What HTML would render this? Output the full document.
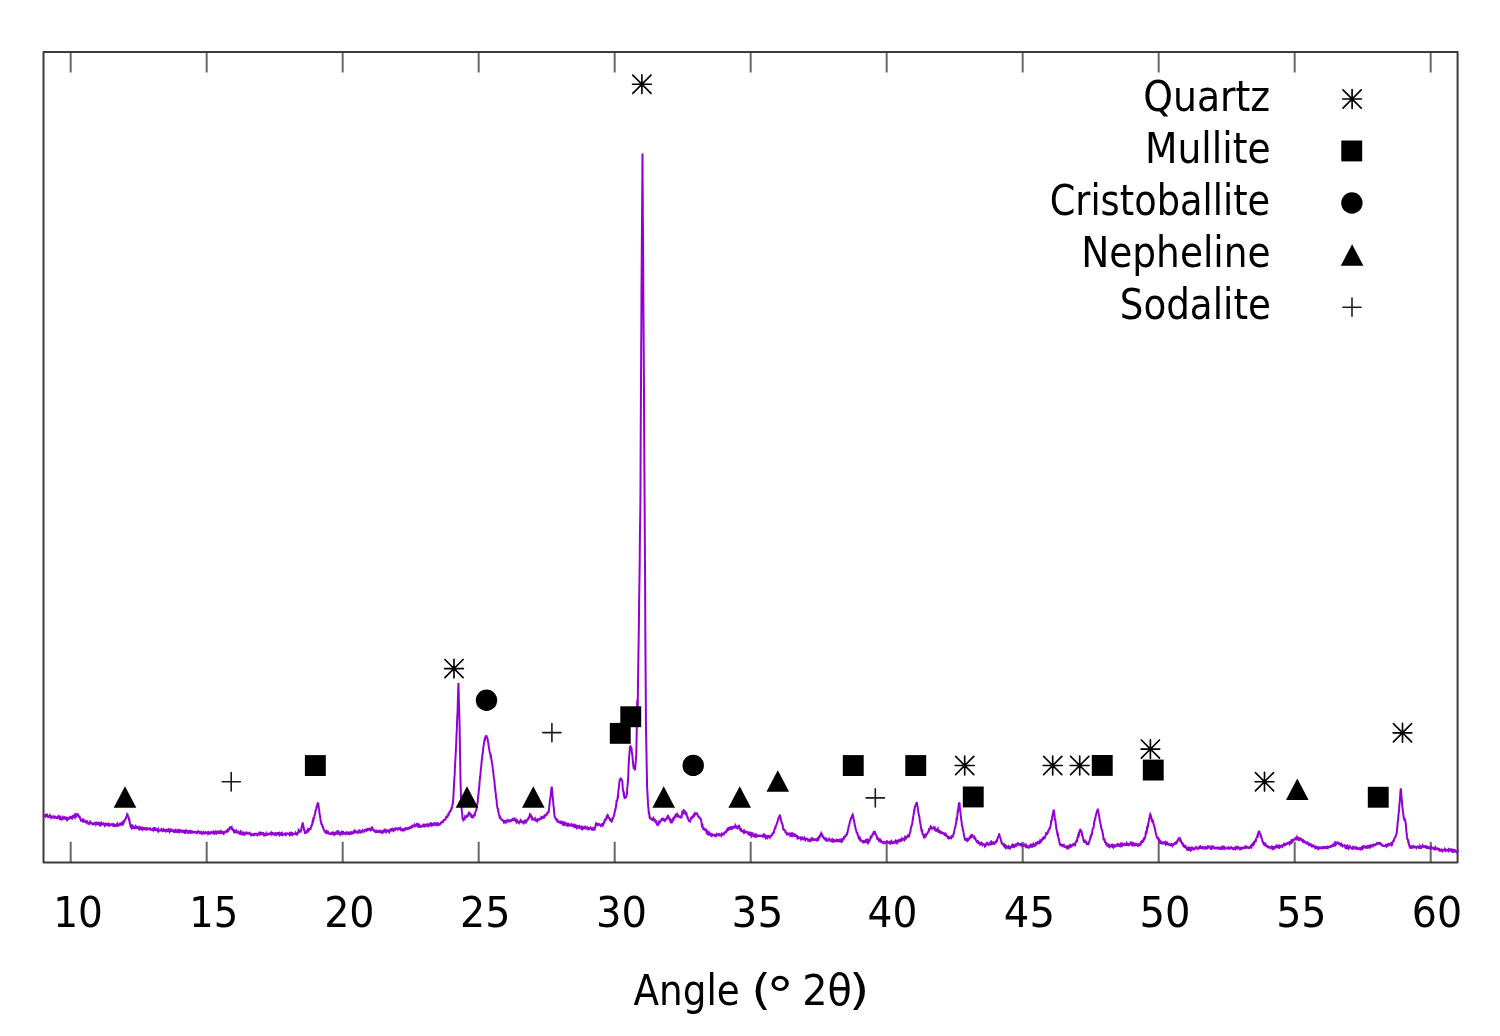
<!DOCTYPE html>
<html lang="en"><head><meta charset="utf-8"><title>XRD pattern</title>
<style>
html,body{margin:0;padding:0;background:#fff;}
body{width:1500px;height:1036px;overflow:hidden;}
svg{display:block;}
text{font-family:"DejaVu Sans Condensed","DejaVu Sans","Liberation Sans",sans-serif;font-size:42px;fill:#000;}
</style></head><body>
<svg width="1500" height="1036" viewBox="0 0 1500 1036">
<rect width="1500" height="1036" fill="#fff"/>
<g stroke="#686868" stroke-width="2" stroke-linecap="butt" fill="none">
<path d="M70.7 862.6V841.8M70.7 52.0V72.4"/>
<path d="M206.7 862.6V841.8M206.7 52.0V72.4"/>
<path d="M342.7 862.6V841.8M342.7 52.0V72.4"/>
<path d="M478.7 862.6V841.8M478.7 52.0V72.4"/>
<path d="M614.7 862.6V841.8M614.7 52.0V72.4"/>
<path d="M750.7 862.6V841.8M750.7 52.0V72.4"/>
<path d="M886.7 862.6V841.8M886.7 52.0V72.4"/>
<path d="M1022.7 862.6V841.8M1022.7 52.0V72.4"/>
<path d="M1158.7 862.6V841.8M1158.7 52.0V72.4"/>
<path d="M1294.7 862.6V841.8M1294.7 52.0V72.4"/>
<path d="M1430.7 862.6V841.8M1430.7 52.0V72.4"/>
</g>
<rect x="43.5" y="52.0" width="1414.1" height="810.6" fill="none" stroke="#3c3c3c" stroke-width="2.0" stroke-linejoin="round"/>
<text x="53.17" y="927.3" textLength="49.68" lengthAdjust="spacingAndGlyphs">10</text>
<text x="189.23" y="927.3" textLength="48.90" lengthAdjust="spacingAndGlyphs">15</text>
<text x="324.15" y="927.3" textLength="50.43" lengthAdjust="spacingAndGlyphs">20</text>
<text x="460.06" y="927.3" textLength="50.37" lengthAdjust="spacingAndGlyphs">25</text>
<text x="596.02" y="927.3" textLength="50.99" lengthAdjust="spacingAndGlyphs">30</text>
<text x="731.58" y="927.3" textLength="51.63" lengthAdjust="spacingAndGlyphs">35</text>
<text x="867.63" y="927.3" textLength="49.83" lengthAdjust="spacingAndGlyphs">40</text>
<text x="1003.87" y="927.3" textLength="51.10" lengthAdjust="spacingAndGlyphs">45</text>
<text x="1139.52" y="927.3" textLength="50.99" lengthAdjust="spacingAndGlyphs">50</text>
<text x="1276.16" y="927.3" textLength="50.37" lengthAdjust="spacingAndGlyphs">55</text>
<text x="1411.86" y="927.3" textLength="50.31" lengthAdjust="spacingAndGlyphs">60</text>
<text x="1143.20" y="110.7" textLength="127.02" lengthAdjust="spacingAndGlyphs">Quartz</text>
<text x="1145.02" y="162.7" textLength="125.60" lengthAdjust="spacingAndGlyphs">Mullite</text>
<text x="1049.65" y="214.7" textLength="220.53" lengthAdjust="spacingAndGlyphs">Cristoballite</text>
<text x="1081.23" y="266.7" textLength="189.39" lengthAdjust="spacingAndGlyphs">Nepheline</text>
<text x="1119.73" y="318.7" textLength="151.27" lengthAdjust="spacingAndGlyphs">Sodalite</text>
<text><tspan x="633.50" y="1005.2" textLength="106.23" lengthAdjust="spacingAndGlyphs">Angle</tspan> <tspan x="751.17" y="1005.2" textLength="19.83" lengthAdjust="spacingAndGlyphs">(</tspan><tspan x="765.99" y="1012.6" style="font-size:49px" textLength="28.19" lengthAdjust="spacingAndGlyphs">°</tspan> <tspan x="802.24" y="1005.2" textLength="49.63" lengthAdjust="spacingAndGlyphs">2θ</tspan><tspan x="848.87" y="1005.2" textLength="20.81" lengthAdjust="spacingAndGlyphs">)</tspan></text>
<polyline fill="none" stroke="#9400D3" stroke-width="2.0" stroke-linejoin="miter" stroke-miterlimit="3" points="43.5,815.4 43.8,814.6 44.0,817.4 44.3,815.8 44.6,815.5 44.9,815.6 45.1,816.1 45.4,815.3 45.7,815.6 45.9,815.8 46.2,815.3 46.5,814.5 46.7,814.5 47.0,816.0 47.3,816.2 47.5,815.6 47.8,816.2 48.1,817.9 48.4,816.8 48.6,815.7 48.9,816.7 49.2,816.7 49.4,816.3 49.7,816.5 50.0,815.6 50.2,816.1 50.5,816.0 50.8,816.2 51.1,817.2 51.3,818.0 51.6,817.7 51.9,816.7 52.1,816.8 52.4,816.8 52.7,817.0 53.0,815.8 53.2,817.5 53.5,816.7 53.8,817.0 54.0,817.4 54.3,816.7 54.6,815.8 54.8,817.2 55.1,817.5 55.4,818.2 55.6,817.4 55.9,817.8 56.2,817.9 56.5,818.2 56.7,818.2 57.0,817.5 57.3,817.0 57.5,817.3 57.8,817.0 58.1,817.1 58.4,817.7 58.6,817.5 58.9,816.4 59.2,816.9 59.4,817.6 59.7,817.8 60.0,820.2 60.2,815.7 60.5,818.0 60.8,817.2 61.0,818.1 61.3,818.4 61.6,817.9 61.9,818.1 62.1,819.0 62.4,818.5 62.7,817.9 62.9,817.4 63.2,818.2 63.5,818.2 63.8,817.9 64.0,818.4 64.3,818.0 64.6,819.2 64.8,818.3 65.1,818.0 65.4,818.1 65.6,816.6 65.9,819.6 66.2,818.7 66.5,819.2 66.7,817.8 67.0,816.9 67.3,818.8 67.5,817.8 67.8,818.8 68.1,818.2 68.3,818.3 68.6,818.9 68.9,818.6 69.2,818.7 69.4,818.5 69.7,818.0 70.0,817.9 70.2,816.0 70.5,818.0 70.8,816.0 71.0,818.0 71.3,818.2 71.6,817.4 71.8,819.2 72.1,817.1 72.4,816.7 72.7,817.6 72.9,817.1 73.2,817.8 73.5,816.5 73.7,817.2 74.0,816.0 74.3,816.2 74.5,815.6 74.8,816.4 75.1,817.2 75.4,816.3 75.6,815.0 75.9,815.3 76.2,815.8 76.4,815.1 76.7,815.4 77.0,816.2 77.2,814.4 77.5,814.7 77.8,814.6 78.1,814.6 78.3,814.8 78.6,816.2 78.9,816.5 79.1,817.1 79.4,817.0 79.7,816.8 80.0,818.2 80.2,818.7 80.5,819.5 80.8,819.8 81.0,821.5 81.3,820.4 81.6,820.1 81.8,821.5 82.1,820.8 82.4,819.6 82.7,822.5 82.9,820.1 83.2,819.7 83.5,820.3 83.7,820.9 84.0,821.2 84.3,820.9 84.5,821.6 84.8,821.5 85.1,820.5 85.3,822.1 85.6,820.3 85.9,821.8 86.2,822.0 86.4,822.5 86.7,822.0 87.0,822.3 87.2,822.4 87.5,821.9 87.8,822.5 88.0,822.8 88.3,823.7 88.6,823.6 88.9,823.3 89.1,822.6 89.4,823.5 89.7,823.0 89.9,822.8 90.2,821.9 90.5,822.4 90.8,824.2 91.0,823.0 91.3,822.8 91.6,822.9 91.8,823.3 92.1,824.6 92.4,822.9 92.6,823.7 92.9,824.1 93.2,823.2 93.5,824.1 93.7,824.1 94.0,823.9 94.3,823.1 94.5,822.1 94.8,823.2 95.1,822.4 95.3,823.7 95.6,823.4 95.9,824.4 96.2,823.8 96.4,821.7 96.7,822.6 97.0,824.2 97.2,823.1 97.5,823.9 97.8,825.1 98.0,823.1 98.3,823.1 98.6,824.6 98.8,823.7 99.1,824.1 99.4,824.6 99.7,823.8 99.9,823.4 100.2,823.9 100.5,823.6 100.7,824.5 101.0,824.0 101.3,823.5 101.5,824.5 101.8,824.3 102.1,824.3 102.4,824.2 102.6,824.1 102.9,823.8 103.2,824.5 103.4,824.4 103.7,823.9 104.0,824.6 104.2,822.9 104.5,824.4 104.8,825.2 105.1,824.5 105.3,826.4 105.6,824.0 105.9,823.8 106.1,824.2 106.4,824.2 106.7,824.1 107.0,824.5 107.2,824.3 107.5,824.3 107.8,825.1 108.0,825.1 108.3,824.2 108.6,824.8 108.8,824.0 109.1,824.2 109.4,824.7 109.7,824.5 109.9,824.9 110.2,824.4 110.5,824.7 110.7,825.0 111.0,824.9 111.3,824.0 111.5,825.2 111.8,824.4 112.1,823.5 112.3,824.4 112.6,824.7 112.9,825.2 113.2,824.5 113.4,825.0 113.7,826.8 114.0,825.4 114.2,824.5 114.5,825.7 114.8,825.0 115.0,825.3 115.3,824.4 115.6,826.9 115.9,825.1 116.1,824.8 116.4,824.5 116.7,825.2 116.9,824.3 117.2,823.8 117.5,824.9 117.8,824.8 118.0,825.5 118.3,825.2 118.6,825.6 118.8,825.6 119.1,824.9 119.4,824.9 119.6,824.1 119.9,823.3 120.2,824.3 120.5,822.5 120.7,824.6 121.0,824.8 121.3,824.2 121.5,823.8 121.8,823.1 122.1,825.3 122.3,823.0 122.6,823.3 122.9,823.7 123.2,822.5 123.4,822.9 123.7,821.9 124.0,821.3 124.2,821.6 124.5,820.8 124.8,820.0 125.0,819.7 125.3,819.7 125.6,818.8 125.8,819.2 126.1,817.3 126.4,817.0 126.7,816.6 126.9,815.3 127.2,814.2 127.5,814.6 127.7,814.7 128.0,816.0 128.3,816.9 128.6,817.6 128.8,819.0 129.1,818.8 129.4,820.4 129.6,822.0 129.9,823.6 130.2,824.2 130.4,825.9 130.7,826.6 131.0,827.2 131.2,826.3 131.5,826.9 131.8,827.4 132.1,826.4 132.3,826.8 132.6,826.3 132.9,827.1 133.1,826.7 133.4,827.4 133.7,828.7 133.9,827.3 134.2,827.4 134.5,827.2 134.8,827.7 135.0,827.2 135.3,826.9 135.6,826.3 135.8,826.7 136.1,827.7 136.4,827.7 136.7,829.1 136.9,827.8 137.2,827.0 137.5,826.0 137.7,828.5 138.0,827.2 138.3,828.3 138.5,827.1 138.8,827.2 139.1,829.4 139.3,829.5 139.6,827.7 139.9,827.4 140.2,828.9 140.4,828.9 140.7,827.7 141.0,828.9 141.2,828.4 141.5,828.7 141.8,828.2 142.1,828.9 142.3,828.6 142.6,829.5 142.9,829.1 143.1,829.0 143.4,828.8 143.7,827.2 143.9,827.6 144.2,828.5 144.5,830.0 144.8,827.6 145.0,829.0 145.3,829.1 145.6,829.9 145.8,828.6 146.1,830.2 146.4,827.1 146.6,828.8 146.9,828.7 147.2,828.7 147.4,829.2 147.7,828.9 148.0,829.1 148.3,829.0 148.5,829.1 148.8,828.8 149.1,828.7 149.3,827.6 149.6,829.3 149.9,827.4 150.2,829.3 150.4,829.8 150.7,829.6 151.0,829.5 151.2,829.6 151.5,829.7 151.8,829.7 152.0,829.4 152.3,829.6 152.6,829.2 152.8,829.4 153.1,830.0 153.4,829.0 153.7,829.5 153.9,829.1 154.2,829.6 154.5,829.2 154.7,827.1 155.0,829.5 155.3,829.9 155.6,830.5 155.8,829.4 156.1,829.2 156.4,830.1 156.6,828.9 156.9,829.7 157.2,830.2 157.4,829.7 157.7,829.7 158.0,829.1 158.2,830.0 158.5,831.2 158.8,830.7 159.1,831.4 159.3,829.7 159.6,830.4 159.9,830.1 160.1,830.5 160.4,830.6 160.7,830.0 160.9,829.6 161.2,831.0 161.5,829.7 161.8,830.2 162.0,829.9 162.3,830.6 162.6,830.9 162.8,830.4 163.1,830.6 163.4,830.1 163.7,829.5 163.9,829.9 164.2,829.9 164.5,830.3 164.7,831.7 165.0,829.6 165.3,830.4 165.5,830.2 165.8,830.9 166.1,830.0 166.3,830.7 166.6,830.2 166.9,830.5 167.2,830.8 167.4,830.3 167.7,831.4 168.0,830.2 168.2,830.4 168.5,829.6 168.8,830.1 169.1,831.2 169.3,831.6 169.6,830.5 169.9,830.1 170.1,832.0 170.4,830.3 170.7,830.7 170.9,830.8 171.2,830.8 171.5,830.8 171.8,831.6 172.0,830.1 172.3,830.4 172.6,829.5 172.8,830.8 173.1,830.6 173.4,831.1 173.6,830.4 173.9,830.5 174.2,831.0 174.4,832.8 174.7,831.8 175.0,830.9 175.3,830.9 175.5,828.9 175.8,831.7 176.1,831.7 176.3,831.0 176.6,831.2 176.9,830.6 177.2,830.0 177.4,831.0 177.7,830.6 178.0,831.3 178.2,830.8 178.5,831.3 178.8,831.6 179.0,831.8 179.3,830.3 179.6,830.6 179.8,829.8 180.1,831.1 180.4,830.6 180.7,831.1 180.9,831.1 181.2,831.5 181.5,831.3 181.7,829.8 182.0,831.4 182.3,831.9 182.6,831.6 182.8,832.7 183.1,830.4 183.4,831.5 183.6,831.5 183.9,830.8 184.2,830.8 184.4,831.7 184.7,831.6 185.0,833.1 185.2,833.8 185.5,831.6 185.8,830.9 186.1,830.4 186.3,830.7 186.6,831.3 186.9,832.5 187.1,832.0 187.4,831.6 187.7,832.2 187.9,831.7 188.2,831.9 188.5,832.2 188.8,831.6 189.0,832.9 189.3,830.2 189.6,831.2 189.8,831.6 190.1,833.5 190.4,831.8 190.7,831.3 190.9,831.7 191.2,832.4 191.5,832.6 191.7,830.6 192.0,831.8 192.3,832.2 192.5,831.9 192.8,831.7 193.1,831.8 193.3,831.9 193.6,832.0 193.9,832.4 194.2,832.2 194.4,831.8 194.7,831.8 195.0,832.6 195.2,832.6 195.5,832.4 195.8,832.3 196.1,832.4 196.3,832.1 196.6,832.4 196.9,834.2 197.1,831.9 197.4,831.9 197.7,831.8 197.9,831.6 198.2,832.8 198.5,831.6 198.8,832.0 199.0,832.2 199.3,831.3 199.6,832.8 199.8,831.8 200.1,833.2 200.4,833.1 200.6,832.4 200.9,832.2 201.2,833.5 201.4,832.6 201.7,833.2 202.0,833.6 202.3,832.8 202.5,832.8 202.8,832.9 203.1,832.5 203.3,832.3 203.6,834.1 203.9,831.6 204.2,833.3 204.4,833.5 204.7,833.2 205.0,834.1 205.2,832.8 205.5,832.5 205.8,832.6 206.0,834.0 206.3,832.4 206.6,832.5 206.8,831.6 207.1,832.5 207.4,832.7 207.7,832.2 207.9,832.1 208.2,833.8 208.5,833.4 208.7,832.7 209.0,833.2 209.3,832.8 209.6,832.8 209.8,832.8 210.1,833.2 210.4,832.3 210.6,832.2 210.9,832.8 211.2,832.6 211.4,832.8 211.7,832.4 212.0,832.8 212.2,832.7 212.5,832.7 212.8,832.9 213.1,832.8 213.3,832.2 213.6,832.8 213.9,832.4 214.1,832.8 214.4,831.9 214.7,832.8 214.9,832.4 215.2,832.6 215.5,832.1 215.8,834.0 216.0,833.0 216.3,833.3 216.6,832.2 216.8,832.0 217.1,832.1 217.4,832.4 217.7,832.0 217.9,830.6 218.2,833.6 218.5,830.6 218.7,833.1 219.0,831.9 219.3,833.8 219.5,832.7 219.8,832.5 220.1,832.0 220.3,833.4 220.6,831.7 220.9,832.4 221.2,832.0 221.4,832.8 221.7,832.8 222.0,832.1 222.2,831.2 222.5,832.5 222.8,832.3 223.1,832.9 223.3,833.3 223.6,832.6 223.9,833.1 224.1,832.4 224.4,832.5 224.7,832.1 224.9,832.2 225.2,832.2 225.5,831.6 225.8,831.4 226.0,831.5 226.3,831.7 226.6,830.2 226.8,831.5 227.1,830.7 227.4,831.0 227.6,829.7 227.9,828.7 228.2,829.9 228.4,829.0 228.7,829.9 229.0,829.2 229.3,828.5 229.5,828.1 229.8,828.6 230.1,828.1 230.3,827.4 230.6,827.2 230.9,828.1 231.2,827.2 231.4,827.8 231.7,827.4 232.0,829.1 232.2,829.2 232.5,829.6 232.8,829.4 233.0,830.0 233.3,830.3 233.6,830.9 233.8,830.9 234.1,833.1 234.4,830.6 234.7,830.9 234.9,830.0 235.2,831.1 235.5,832.0 235.7,832.0 236.0,833.2 236.3,832.2 236.6,832.3 236.8,831.3 237.1,831.8 237.4,832.0 237.6,833.2 237.9,832.5 238.2,832.2 238.4,833.4 238.7,832.3 239.0,833.4 239.2,833.6 239.5,833.7 239.8,832.7 240.1,832.2 240.3,832.9 240.6,832.3 240.9,833.5 241.1,832.9 241.4,833.1 241.7,834.9 241.9,834.4 242.2,833.1 242.5,833.7 242.8,832.6 243.0,833.1 243.3,833.3 243.6,833.5 243.8,832.8 244.1,833.1 244.4,834.9 244.7,835.5 244.9,833.7 245.2,833.9 245.5,833.5 245.7,833.4 246.0,832.8 246.3,833.5 246.5,832.4 246.8,834.1 247.1,832.0 247.3,833.5 247.6,833.7 247.9,833.7 248.2,832.7 248.4,833.8 248.7,833.0 249.0,834.3 249.2,833.0 249.5,832.8 249.8,833.6 250.1,834.0 250.3,833.9 250.6,834.1 250.9,834.8 251.1,834.2 251.4,834.5 251.7,834.7 251.9,833.9 252.2,835.9 252.5,833.7 252.8,834.5 253.0,834.6 253.3,833.2 253.6,835.0 253.8,833.7 254.1,834.8 254.4,834.5 254.6,834.4 254.9,832.9 255.2,834.4 255.4,834.2 255.7,834.2 256.0,834.4 256.3,834.1 256.5,833.8 256.8,833.9 257.1,834.2 257.3,834.8 257.6,834.2 257.9,834.1 258.1,834.3 258.4,834.4 258.7,834.6 259.0,834.7 259.2,831.9 259.5,833.7 259.8,834.2 260.0,833.7 260.3,834.4 260.6,834.3 260.9,834.0 261.1,833.4 261.4,834.0 261.7,834.4 261.9,834.9 262.2,833.8 262.5,833.9 262.7,832.2 263.0,833.7 263.3,832.6 263.6,833.7 263.8,834.7 264.1,834.3 264.4,834.8 264.6,834.3 264.9,835.3 265.2,833.5 265.4,834.0 265.7,836.0 266.0,834.2 266.2,833.6 266.5,834.4 266.8,834.1 267.1,834.7 267.3,833.5 267.6,835.5 267.9,832.8 268.1,834.3 268.4,835.2 268.7,834.0 268.9,833.9 269.2,833.8 269.5,834.8 269.8,833.9 270.0,833.6 270.3,834.3 270.6,834.3 270.8,832.5 271.1,834.2 271.4,833.1 271.6,833.5 271.9,834.3 272.2,833.6 272.5,833.3 272.7,833.7 273.0,833.6 273.3,834.1 273.5,834.7 273.8,833.7 274.1,833.9 274.4,833.7 274.6,834.2 274.9,833.7 275.2,834.5 275.4,834.3 275.7,833.9 276.0,834.4 276.2,833.7 276.5,833.9 276.8,834.9 277.1,834.1 277.3,833.4 277.6,832.3 277.9,833.4 278.1,833.9 278.4,834.6 278.7,834.6 278.9,834.4 279.2,833.7 279.5,834.5 279.8,833.6 280.0,833.9 280.3,833.6 280.6,834.1 280.8,834.5 281.1,834.3 281.4,833.7 281.6,834.4 281.9,834.1 282.2,834.5 282.4,833.9 282.7,834.5 283.0,833.9 283.3,833.3 283.5,835.1 283.8,834.5 284.1,834.3 284.3,834.3 284.6,834.3 284.9,834.3 285.1,834.5 285.4,833.4 285.7,833.5 286.0,834.1 286.2,833.3 286.5,834.3 286.8,832.6 287.0,834.2 287.3,833.5 287.6,833.7 287.9,833.9 288.1,833.8 288.4,833.9 288.7,834.1 288.9,833.8 289.2,833.9 289.5,834.5 289.7,833.6 290.0,834.1 290.3,834.5 290.6,835.7 290.8,834.6 291.1,833.2 291.4,831.9 291.6,834.4 291.9,833.7 292.2,834.5 292.4,833.0 292.7,834.2 293.0,833.6 293.2,833.8 293.5,833.9 293.8,833.7 294.1,832.9 294.3,833.6 294.6,833.8 294.9,834.0 295.1,834.0 295.4,833.1 295.7,833.8 295.9,835.0 296.2,834.2 296.5,834.0 296.8,834.3 297.0,833.0 297.3,832.8 297.6,833.3 297.8,832.9 298.1,833.1 298.4,833.8 298.6,830.3 298.9,830.7 299.2,831.9 299.5,831.2 299.7,831.3 300.0,831.9 300.3,829.7 300.5,832.5 300.8,830.8 301.1,830.7 301.4,828.3 301.6,827.4 301.9,826.4 302.2,825.3 302.4,824.0 302.7,823.3 303.0,823.5 303.2,825.0 303.5,826.4 303.8,828.2 304.1,830.9 304.3,829.4 304.6,830.8 304.9,832.7 305.1,833.7 305.4,832.6 305.7,833.7 305.9,832.5 306.2,832.6 306.5,832.4 306.8,832.9 307.0,830.8 307.3,830.3 307.6,830.6 307.8,830.7 308.1,829.2 308.4,829.5 308.6,830.3 308.9,829.7 309.2,829.8 309.4,829.2 309.7,828.3 310.0,829.9 310.3,828.4 310.5,830.0 310.8,826.9 311.1,827.9 311.3,826.1 311.6,825.4 311.9,825.3 312.1,824.0 312.4,823.3 312.7,820.1 313.0,820.6 313.2,819.3 313.5,819.7 313.8,818.2 314.0,817.9 314.3,816.5 314.6,814.7 314.9,814.3 315.1,814.6 315.4,811.1 315.7,811.0 315.9,810.0 316.2,808.9 316.5,807.2 316.7,807.4 317.0,806.3 317.3,804.6 317.6,803.5 317.8,803.7 318.1,802.8 318.4,803.9 318.6,806.1 318.9,808.8 319.2,809.7 319.4,812.6 319.7,814.5 320.0,816.3 320.2,817.3 320.5,819.6 320.8,821.5 321.1,821.8 321.3,824.0 321.6,824.5 321.9,824.6 322.1,824.6 322.4,827.0 322.7,826.0 322.9,827.4 323.2,827.4 323.5,828.9 323.8,830.1 324.0,829.6 324.3,831.7 324.6,830.7 324.8,831.5 325.1,831.9 325.4,831.6 325.6,832.3 325.9,831.3 326.2,831.1 326.5,834.1 326.7,830.5 327.0,833.7 327.3,832.8 327.5,831.9 327.8,831.8 328.1,832.6 328.4,832.4 328.6,832.8 328.9,833.0 329.2,834.1 329.4,832.5 329.7,834.9 330.0,833.9 330.2,834.0 330.5,833.7 330.8,833.7 331.1,833.7 331.3,833.2 331.6,833.3 331.9,832.5 332.1,832.5 332.4,835.0 332.7,833.6 332.9,833.6 333.2,834.0 333.5,833.7 333.8,834.1 334.0,833.2 334.3,833.6 334.6,832.9 334.8,833.8 335.1,833.3 335.4,833.4 335.6,833.6 335.9,832.6 336.2,832.7 336.4,833.3 336.7,833.1 337.0,833.2 337.3,830.3 337.5,833.8 337.8,834.4 338.1,832.4 338.3,832.9 338.6,833.5 338.9,833.8 339.1,832.3 339.4,832.7 339.7,833.5 340.0,833.7 340.2,833.5 340.5,834.1 340.8,832.8 341.0,834.1 341.3,832.7 341.6,832.2 341.9,832.8 342.1,833.2 342.4,832.7 342.7,833.3 342.9,832.5 343.2,832.2 343.5,832.9 343.7,832.9 344.0,833.4 344.3,833.5 344.6,834.1 344.8,833.1 345.1,833.0 345.4,833.4 345.6,833.8 345.9,833.2 346.2,832.2 346.4,831.4 346.7,832.5 347.0,832.7 347.2,833.2 347.5,833.5 347.8,834.8 348.1,833.5 348.3,831.9 348.6,833.3 348.9,831.8 349.1,833.9 349.4,832.5 349.7,832.5 349.9,833.6 350.2,833.2 350.5,833.2 350.8,832.8 351.0,834.3 351.3,833.6 351.6,833.4 351.8,832.8 352.1,833.1 352.4,833.7 352.6,832.6 352.9,832.3 353.2,833.2 353.5,832.9 353.7,832.0 354.0,832.5 354.3,832.3 354.5,831.3 354.8,830.8 355.1,831.8 355.4,831.7 355.6,832.0 355.9,831.6 356.2,831.6 356.4,832.0 356.7,832.5 357.0,832.5 357.2,831.9 357.5,831.5 357.8,831.7 358.1,832.3 358.3,831.8 358.6,832.8 358.9,831.7 359.1,832.6 359.4,829.3 359.7,831.4 359.9,831.9 360.2,831.8 360.5,832.3 360.8,832.0 361.0,833.2 361.3,831.2 361.6,831.1 361.8,831.0 362.1,831.8 362.4,831.5 362.6,830.8 362.9,831.3 363.2,832.3 363.4,831.4 363.7,831.2 364.0,829.9 364.3,830.9 364.5,830.5 364.8,831.0 365.1,830.7 365.3,830.3 365.6,830.4 365.9,831.3 366.1,830.3 366.4,830.6 366.7,829.9 367.0,829.4 367.2,829.9 367.5,830.2 367.8,830.0 368.0,828.2 368.3,830.4 368.6,829.6 368.9,829.5 369.1,829.4 369.4,829.6 369.7,829.8 369.9,828.6 370.2,828.6 370.5,829.6 370.7,830.2 371.0,829.9 371.3,829.0 371.6,828.3 371.8,828.8 372.1,828.7 372.4,828.3 372.6,829.6 372.9,829.8 373.2,829.7 373.4,829.7 373.7,830.6 374.0,830.7 374.2,830.4 374.5,830.8 374.8,831.5 375.1,831.7 375.3,831.2 375.6,831.0 375.9,830.7 376.1,831.4 376.4,832.9 376.7,831.3 376.9,831.3 377.2,831.5 377.5,831.5 377.8,831.7 378.0,831.2 378.3,832.4 378.6,831.0 378.8,831.1 379.1,831.4 379.4,831.7 379.6,831.2 379.9,831.2 380.2,830.8 380.5,831.1 380.7,832.2 381.0,832.4 381.3,830.8 381.5,831.3 381.8,831.7 382.1,831.5 382.4,832.1 382.6,831.6 382.9,831.2 383.2,831.9 383.4,830.4 383.7,831.3 384.0,830.8 384.2,831.3 384.5,830.9 384.8,830.4 385.1,831.2 385.3,831.4 385.6,830.7 385.9,831.4 386.1,831.9 386.4,831.2 386.7,831.9 386.9,830.9 387.2,830.7 387.5,831.2 387.8,831.1 388.0,830.8 388.3,829.9 388.6,831.0 388.8,830.7 389.1,831.2 389.4,831.7 389.6,830.5 389.9,830.4 390.2,830.0 390.4,829.9 390.7,829.2 391.0,829.1 391.3,830.2 391.5,831.2 391.8,830.6 392.1,830.1 392.3,829.9 392.6,829.9 392.9,829.2 393.1,829.6 393.4,830.2 393.7,829.0 394.0,828.4 394.2,830.1 394.5,829.2 394.8,831.1 395.0,829.1 395.3,827.7 395.6,828.5 395.9,829.5 396.1,828.9 396.4,828.5 396.7,828.5 396.9,828.6 397.2,828.5 397.5,829.3 397.7,829.0 398.0,829.2 398.3,828.4 398.6,828.3 398.8,828.9 399.1,829.5 399.4,828.1 399.6,829.1 399.9,829.1 400.2,829.4 400.4,828.6 400.7,829.2 401.0,829.8 401.2,830.2 401.5,830.0 401.8,829.8 402.1,830.0 402.3,829.3 402.6,829.5 402.9,830.2 403.1,829.7 403.4,830.7 403.7,829.6 403.9,829.8 404.2,828.7 404.5,830.1 404.8,829.5 405.0,829.8 405.3,829.6 405.6,828.0 405.8,828.0 406.1,828.6 406.4,828.3 406.6,827.7 406.9,828.8 407.2,829.1 407.5,829.2 407.7,828.5 408.0,827.9 408.3,827.9 408.5,828.5 408.8,828.4 409.1,827.6 409.4,827.6 409.6,828.1 409.9,827.8 410.2,828.0 410.4,828.8 410.7,827.0 411.0,826.6 411.2,825.9 411.5,827.1 411.8,826.7 412.1,826.8 412.3,824.9 412.6,825.6 412.9,826.9 413.1,826.3 413.4,825.3 413.7,826.3 413.9,826.4 414.2,825.4 414.5,824.9 414.8,826.0 415.0,825.9 415.3,825.4 415.6,825.8 415.8,825.5 416.1,824.3 416.4,825.7 416.6,824.9 416.9,825.4 417.2,824.9 417.4,825.4 417.7,825.9 418.0,825.0 418.3,825.8 418.5,825.2 418.8,823.8 419.1,824.9 419.3,825.5 419.6,826.1 419.9,825.6 420.1,825.0 420.4,826.4 420.7,827.5 421.0,826.3 421.2,826.4 421.5,826.2 421.8,826.3 422.0,826.4 422.3,826.5 422.6,826.3 422.9,825.5 423.1,825.9 423.4,825.4 423.7,826.0 423.9,825.9 424.2,825.6 424.5,825.2 424.7,825.9 425.0,825.5 425.3,825.6 425.6,824.5 425.8,825.4 426.1,825.0 426.4,825.6 426.6,826.5 426.9,825.7 427.2,825.1 427.4,824.7 427.7,824.4 428.0,825.2 428.2,826.3 428.5,826.4 428.8,824.1 429.1,824.7 429.3,825.2 429.6,824.9 429.9,824.5 430.1,822.8 430.4,824.2 430.7,824.7 430.9,823.5 431.2,822.5 431.5,824.4 431.8,825.0 432.0,824.7 432.3,824.5 432.6,824.2 432.8,823.4 433.1,824.7 433.4,824.3 433.6,823.2 433.9,824.5 434.2,824.3 434.5,822.2 434.7,825.0 435.0,823.2 435.3,824.4 435.5,824.1 435.8,824.3 436.1,823.8 436.4,824.2 436.6,822.5 436.9,824.5 437.2,823.0 437.4,824.5 437.7,823.6 438.0,824.0 438.2,826.0 438.5,823.7 438.8,823.9 439.1,824.1 439.3,824.2 439.6,824.0 439.9,824.3 440.1,824.0 440.4,823.9 440.7,823.0 440.9,823.2 441.2,822.8 441.5,822.4 441.8,822.4 442.0,821.9 442.3,821.5 442.6,821.6 442.8,821.6 443.1,821.8 443.4,820.7 443.6,820.6 443.9,819.1 444.2,820.1 444.4,820.2 444.7,820.0 445.0,819.5 445.3,819.5 445.5,820.1 445.8,818.2 446.1,817.0 446.3,816.8 446.6,817.6 446.9,816.4 447.1,817.6 447.4,816.9 447.7,816.4 448.0,815.3 448.2,814.3 448.5,814.3 448.8,814.4 449.0,813.2 449.3,812.4 449.6,812.0 449.9,811.0 450.1,812.2 450.4,811.6 450.7,809.7 450.9,810.7 451.2,809.9 451.5,807.8 451.7,807.3 452.0,808.6 452.2,806.7 452.3,805.4 452.6,804.1 452.8,803.9 453.0,802.6 453.1,801.0 453.4,796.5 453.6,792.2 453.9,787.6 454.2,781.6 454.4,777.4 454.6,775.9 454.7,773.7 455.0,765.7 455.2,762.4 455.5,757.8 455.8,751.3 456.1,745.4 456.3,741.9 456.3,741.0 456.6,733.9 456.9,727.8 457.1,720.6 457.4,714.2 457.6,711.2 457.7,706.1 457.9,698.6 458.2,690.3 458.4,683.0 458.5,685.1 458.8,697.2 459.0,705.5 459.3,714.9 459.6,724.6 459.6,725.4 459.8,740.2 460.1,756.6 460.4,773.6 460.4,775.3 460.6,783.5 460.9,794.0 461.2,803.4 461.2,803.7 461.5,806.5 461.7,809.8 462.0,812.4 462.3,814.4 462.5,818.5 462.8,819.4 462.8,818.8 463.1,819.5 463.4,818.5 463.6,818.0 463.7,818.9 463.9,819.9 464.2,817.7 464.4,820.3 464.7,818.8 465.0,817.0 465.2,817.3 465.5,816.7 465.8,818.1 466.1,816.8 466.3,817.8 466.6,817.0 466.9,814.5 467.1,815.6 467.4,815.9 467.7,815.3 467.9,816.5 468.2,814.9 468.5,813.4 468.8,813.4 469.0,812.4 469.3,812.4 469.6,813.4 469.8,815.1 470.1,813.3 470.4,814.4 470.6,815.7 470.9,816.1 471.2,815.1 471.4,816.2 471.7,815.6 472.0,816.3 472.3,815.5 472.5,817.0 472.8,817.1 473.1,816.6 473.3,816.9 473.6,816.5 473.9,815.1 474.1,815.2 474.4,814.5 474.7,816.1 475.0,813.4 475.2,813.1 475.5,811.8 475.8,811.2 476.0,810.5 476.3,809.6 476.6,808.9 476.9,806.1 477.1,804.8 477.4,803.8 477.7,802.3 477.9,799.0 478.2,796.3 478.5,793.8 478.7,791.8 479.0,788.3 479.3,786.3 479.6,781.2 479.8,780.4 480.1,776.4 480.4,775.3 480.6,772.0 480.9,768.9 481.2,766.8 481.4,764.0 481.7,761.3 482.0,758.2 482.2,758.0 482.5,753.4 482.8,753.2 483.1,750.0 483.3,747.7 483.6,745.9 483.9,743.8 484.1,742.6 484.4,740.8 484.7,739.5 484.9,737.8 485.2,738.3 485.5,736.4 485.8,736.4 486.0,737.2 486.3,735.3 486.6,736.4 486.8,737.1 487.1,737.6 487.4,738.4 487.6,738.9 487.9,741.2 488.2,742.4 488.5,744.3 488.7,746.3 489.0,748.1 489.3,749.4 489.5,750.9 489.8,752.6 490.1,753.7 490.4,754.2 490.6,756.3 490.9,756.1 491.2,758.6 491.4,759.2 491.7,761.1 492.0,762.9 492.2,763.6 492.5,766.3 492.8,768.9 493.1,770.4 493.3,772.3 493.6,775.6 493.9,777.9 494.1,778.6 494.4,781.1 494.7,784.6 494.9,786.8 495.2,789.3 495.5,791.6 495.8,794.1 496.0,797.1 496.3,799.1 496.6,799.4 496.8,803.8 497.1,805.9 497.4,807.7 497.6,808.8 497.9,808.0 498.2,811.9 498.4,811.6 498.7,813.4 499.0,814.6 499.3,815.6 499.5,816.5 499.8,818.7 500.1,817.7 500.3,817.4 500.6,818.2 500.9,818.5 501.1,819.3 501.4,819.4 501.7,819.8 502.0,820.0 502.2,819.4 502.5,820.3 502.8,820.7 503.0,820.9 503.3,821.2 503.6,821.9 503.9,821.3 504.1,821.5 504.4,820.2 504.7,823.4 504.9,822.3 505.2,821.8 505.5,822.1 505.7,823.1 506.0,820.2 506.3,822.0 506.6,821.5 506.8,820.5 507.1,821.4 507.4,820.4 507.6,819.0 507.9,822.1 508.2,821.1 508.4,821.2 508.7,820.8 509.0,820.8 509.2,821.4 509.5,821.5 509.8,821.3 510.1,820.6 510.3,820.9 510.6,820.6 510.9,820.6 511.1,820.4 511.4,820.7 511.7,820.3 511.9,819.9 512.2,819.4 512.5,820.1 512.8,820.1 513.0,819.9 513.3,821.1 513.6,819.4 513.8,819.1 514.1,820.7 514.4,819.8 514.6,819.8 514.9,819.4 515.2,820.8 515.5,820.2 515.7,820.1 516.0,821.3 516.3,821.8 516.5,820.6 516.8,821.6 517.1,820.4 517.4,820.8 517.6,823.2 517.9,821.1 518.2,822.7 518.4,821.1 518.7,822.3 519.0,822.8 519.2,822.1 519.5,821.7 519.8,822.8 520.0,821.6 520.3,821.2 520.6,820.3 520.9,820.8 521.1,822.1 521.4,821.5 521.7,822.0 521.9,821.7 522.2,821.6 522.5,823.1 522.8,822.0 523.0,821.9 523.3,822.5 523.6,821.5 523.8,821.3 524.1,821.4 524.4,821.4 524.6,821.9 524.9,821.0 525.2,819.8 525.5,820.9 525.7,821.2 526.0,823.3 526.3,822.1 526.5,820.7 526.8,820.8 527.1,820.3 527.3,819.9 527.6,819.9 527.9,819.0 528.1,818.6 528.4,818.7 528.7,818.2 529.0,817.9 529.2,817.1 529.5,816.0 529.8,816.0 530.0,814.4 530.3,814.7 530.6,816.8 530.9,814.2 531.1,817.7 531.4,816.2 531.7,817.4 531.9,818.3 532.2,817.9 532.5,818.8 532.7,820.4 533.0,819.3 533.3,819.1 533.5,819.2 533.8,819.3 534.1,819.5 534.4,819.5 534.6,819.0 534.9,818.5 535.2,819.7 535.4,820.4 535.7,820.3 536.0,820.4 536.2,820.0 536.5,820.3 536.8,820.2 537.1,820.8 537.3,820.0 537.6,820.4 537.9,819.9 538.1,819.7 538.4,820.5 538.7,819.2 539.0,819.9 539.2,818.5 539.5,819.4 539.8,819.2 540.0,819.2 540.3,817.7 540.6,819.6 540.8,819.0 541.1,818.3 541.4,817.9 541.6,815.9 541.9,817.9 542.2,818.7 542.5,817.0 542.7,818.7 543.0,817.3 543.3,817.4 543.5,817.1 543.8,817.8 544.1,817.7 544.4,816.6 544.6,817.3 544.9,814.3 545.2,815.7 545.4,815.8 545.7,815.3 546.0,814.9 546.2,814.9 546.5,814.9 546.8,813.6 547.0,813.7 547.3,813.7 547.6,812.9 547.9,812.7 548.1,812.5 548.4,811.6 548.7,811.8 548.9,809.9 549.2,807.5 549.5,805.0 549.8,800.7 550.0,800.2 550.3,798.5 550.6,796.5 550.8,793.9 551.1,791.3 551.4,789.1 551.6,786.7 551.9,787.6 552.2,790.2 552.5,794.9 552.7,797.1 553.0,799.6 553.3,803.1 553.5,806.1 553.8,807.8 554.1,811.8 554.3,813.4 554.6,816.4 554.9,817.3 555.1,817.6 555.4,818.3 555.7,818.3 556.0,819.8 556.2,818.8 556.5,819.7 556.8,820.4 557.0,820.1 557.3,819.8 557.6,820.1 557.9,821.2 558.1,821.9 558.4,821.9 558.7,822.1 558.9,821.6 559.2,820.8 559.5,822.7 559.7,821.9 560.0,823.2 560.3,821.9 560.5,822.9 560.8,822.9 561.1,822.5 561.4,820.6 561.6,822.6 561.9,823.0 562.2,822.0 562.4,823.4 562.7,823.0 563.0,822.7 563.2,823.3 563.5,824.5 563.8,824.3 564.1,821.5 564.3,824.4 564.6,824.1 564.9,823.5 565.1,824.2 565.4,823.8 565.7,823.6 566.0,824.5 566.2,823.7 566.5,823.7 566.8,825.1 567.0,825.0 567.3,825.6 567.6,825.4 567.8,824.7 568.1,823.0 568.4,824.2 568.6,825.5 568.9,826.4 569.2,824.7 569.5,823.9 569.7,825.2 570.0,824.4 570.3,825.4 570.5,825.5 570.8,823.7 571.1,825.2 571.4,826.1 571.6,824.9 571.9,825.4 572.2,825.3 572.4,825.4 572.7,825.1 573.0,826.7 573.2,823.9 573.5,826.2 573.8,825.7 574.0,826.3 574.3,826.0 574.6,826.5 574.9,825.9 575.1,826.6 575.4,826.2 575.7,828.0 575.9,825.9 576.2,825.8 576.5,826.8 576.8,824.8 577.0,827.8 577.3,827.5 577.6,827.2 577.8,826.2 578.1,827.5 578.4,826.3 578.6,826.3 578.9,827.1 579.2,826.7 579.5,827.8 579.7,827.7 580.0,826.8 580.3,827.4 580.5,827.6 580.8,828.0 581.1,827.5 581.3,828.2 581.6,828.9 581.9,829.1 582.1,825.9 582.4,827.7 582.7,828.4 583.0,827.9 583.2,828.3 583.5,827.9 583.8,828.0 584.0,827.7 584.3,827.9 584.6,827.8 584.9,827.2 585.1,827.7 585.4,827.3 585.7,827.8 585.9,827.1 586.2,828.0 586.5,827.9 586.7,828.1 587.0,827.6 587.3,828.5 587.5,827.7 587.8,826.8 588.1,828.5 588.4,828.1 588.6,828.3 588.9,829.2 589.2,829.2 589.4,828.9 589.7,828.2 590.0,827.9 590.2,829.5 590.5,827.0 590.8,828.0 591.1,828.4 591.3,828.8 591.6,829.3 591.9,829.1 592.1,828.9 592.4,828.5 592.7,829.2 593.0,830.5 593.2,829.7 593.5,828.0 593.8,829.8 594.0,829.0 594.3,829.5 594.6,829.6 594.8,828.7 595.1,827.0 595.4,826.5 595.6,824.9 595.9,824.0 596.2,824.5 596.5,824.5 596.7,824.1 597.0,825.1 597.3,824.2 597.5,824.8 597.8,824.5 598.1,823.4 598.4,825.2 598.6,824.0 598.9,824.0 599.2,825.7 599.4,824.8 599.7,825.0 600.0,825.2 600.2,824.8 600.5,824.1 600.8,825.6 601.0,825.4 601.3,824.5 601.6,824.3 601.9,825.3 602.1,824.5 602.4,825.2 602.7,824.5 602.9,824.3 603.2,823.2 603.5,823.9 603.8,822.9 604.0,822.4 604.3,822.4 604.6,820.4 604.8,820.5 605.1,819.6 605.4,819.7 605.6,819.8 605.9,819.6 606.2,819.0 606.5,817.4 606.7,817.7 607.0,817.3 607.3,815.3 607.5,816.1 607.8,815.3 608.1,815.8 608.3,816.9 608.6,818.7 608.9,817.2 609.1,817.9 609.4,818.4 609.7,819.1 610.0,820.6 610.2,819.3 610.5,821.1 610.8,818.3 611.0,820.2 611.3,821.0 611.6,821.5 611.9,820.9 612.1,819.9 612.4,820.0 612.7,818.8 612.9,817.9 613.2,817.8 613.5,816.9 613.7,816.4 614.0,814.7 614.3,815.5 614.5,812.7 614.8,811.4 615.1,810.9 615.4,808.7 615.6,808.7 615.9,806.9 616.2,805.0 616.4,802.9 616.7,800.2 617.0,801.3 617.2,800.1 617.5,798.6 617.8,796.5 618.1,796.7 618.3,791.7 618.6,789.6 618.9,787.2 619.1,785.2 619.4,782.3 619.7,780.2 620.0,780.0 620.2,779.3 620.5,779.2 620.8,778.6 621.0,778.8 621.3,780.1 621.6,780.3 621.8,780.1 622.1,780.6 622.4,781.9 622.6,786.5 622.9,789.6 623.2,791.4 623.5,792.0 623.7,794.1 624.0,793.7 624.3,796.4 624.5,797.9 624.8,799.0 625.1,796.2 625.4,796.8 625.6,796.5 625.9,795.9 626.2,797.9 626.4,795.6 626.7,794.7 627.0,793.8 627.2,788.7 627.5,786.2 627.8,782.5 628.0,780.1 628.3,774.9 628.6,766.2 628.9,760.4 629.1,757.3 629.4,754.5 629.7,750.8 629.9,747.4 630.2,746.4 630.5,746.2 630.8,747.8 631.0,747.3 631.3,748.4 631.5,747.5 631.6,748.7 631.8,751.9 632.1,753.2 632.3,755.1 632.4,755.4 632.6,757.8 632.9,761.8 633.2,764.4 633.5,767.0 633.5,766.2 633.7,768.7 634.0,768.2 634.3,769.3 634.5,768.6 634.8,769.3 635.0,769.2 635.1,770.1 635.3,765.8 635.6,763.2 635.9,760.1 636.1,756.3 636.3,755.3 636.4,748.2 636.7,733.0 637.0,718.0 637.2,702.8 637.3,699.5 637.4,726.5 637.5,719.4 637.8,700.5 638.0,681.6 638.3,662.5 638.6,643.1 638.9,623.5 639.1,605.5 639.1,603.1 639.4,584.1 639.7,562.7 639.9,536.5 640.2,516.6 640.4,500.6 640.5,484.5 640.7,435.0 641.0,381.4 641.2,344.3 641.3,333.0 641.5,291.6 641.8,250.0 642.1,208.2 642.4,167.1 642.5,153.6 642.6,180.2 642.9,222.7 643.2,263.9 643.4,305.4 643.7,345.5 643.7,346.7 644.0,393.8 644.2,440.4 644.5,485.5 644.6,500.5 644.8,533.5 645.1,581.4 645.2,606.5 645.3,627.3 645.6,671.3 645.9,715.3 645.9,719.9 646.1,734.2 646.4,750.3 646.5,754.5 646.7,766.8 647.0,780.7 647.0,785.3 647.2,789.0 647.5,793.6 647.8,799.9 648.0,803.5 648.3,807.5 648.6,810.2 648.8,812.9 649.1,812.8 649.4,814.9 649.6,817.6 649.7,816.3 649.9,819.0 650.2,817.1 650.5,819.2 650.7,817.9 651.0,819.0 651.3,819.3 651.5,819.3 651.8,819.1 652.1,819.6 652.4,819.2 652.6,819.4 652.9,818.2 653.2,819.1 653.4,818.5 653.7,819.3 654.0,818.6 654.2,819.4 654.5,819.6 654.8,820.6 655.0,821.0 655.3,820.7 655.6,821.2 655.9,822.3 656.1,822.6 656.4,822.2 656.7,823.7 656.9,823.2 657.2,825.5 657.5,824.5 657.8,824.5 658.0,824.4 658.3,824.7 658.6,823.7 658.8,822.6 659.1,823.0 659.4,822.6 659.6,821.4 659.9,821.5 660.2,821.8 660.5,821.3 660.7,821.0 661.0,820.6 661.3,819.5 661.5,819.1 661.8,819.1 662.1,819.9 662.3,819.9 662.6,820.0 662.9,819.2 663.1,819.4 663.4,817.8 663.7,819.7 664.0,819.8 664.2,819.7 664.5,820.2 664.8,820.1 665.0,820.8 665.3,820.6 665.6,819.9 665.9,819.2 666.1,819.1 666.4,818.3 666.7,819.6 666.9,818.2 667.2,817.3 667.5,818.1 667.7,817.0 668.0,816.6 668.3,817.1 668.5,816.7 668.8,817.4 669.1,818.4 669.4,818.6 669.6,819.4 669.9,819.1 670.2,820.1 670.4,821.0 670.7,822.2 671.0,822.3 671.2,822.0 671.5,823.2 671.8,821.3 672.1,821.7 672.3,821.1 672.6,819.8 672.9,820.0 673.1,818.9 673.4,818.2 673.7,818.7 674.0,817.3 674.2,818.6 674.5,818.0 674.8,817.8 675.0,816.5 675.3,816.6 675.6,816.3 675.8,813.5 676.1,816.7 676.4,815.5 676.6,815.4 676.9,815.4 677.2,814.6 677.5,815.5 677.7,815.9 678.0,815.4 678.3,815.8 678.5,815.7 678.8,816.5 679.1,817.5 679.4,816.7 679.6,815.8 679.9,817.3 680.2,817.4 680.4,816.9 680.7,815.6 681.0,816.8 681.2,816.6 681.5,818.2 681.8,814.9 682.0,814.5 682.3,811.9 682.6,811.3 682.9,812.8 683.1,810.9 683.4,812.6 683.7,809.2 683.9,812.4 684.2,812.0 684.5,811.8 684.8,813.9 685.0,812.4 685.3,813.5 685.6,813.9 685.8,813.2 686.1,813.9 686.4,814.3 686.6,814.0 686.9,815.3 687.2,816.4 687.5,816.4 687.7,819.1 688.0,818.4 688.3,819.2 688.5,819.8 688.8,820.7 689.1,821.0 689.3,821.2 689.6,821.1 689.9,821.4 690.1,820.2 690.4,820.1 690.7,819.8 691.0,818.8 691.2,816.9 691.5,819.2 691.8,817.9 692.0,817.4 692.3,816.3 692.6,817.0 692.9,816.6 693.1,815.8 693.4,815.3 693.7,815.9 693.9,815.5 694.2,814.9 694.5,813.8 694.7,813.5 695.0,814.4 695.3,813.7 695.5,814.5 695.8,812.7 696.1,813.3 696.4,814.6 696.6,813.9 696.9,812.6 697.2,815.2 697.4,814.7 697.7,815.6 698.0,816.2 698.2,816.1 698.5,816.5 698.8,816.8 699.1,818.1 699.3,817.6 699.6,817.6 699.9,818.0 700.1,818.4 700.4,818.6 700.7,819.5 701.0,819.5 701.2,820.4 701.5,822.7 701.8,824.8 702.0,826.3 702.3,826.2 702.6,825.7 702.8,826.8 703.1,827.5 703.4,830.2 703.6,828.0 703.9,828.4 704.2,828.8 704.5,829.2 704.7,828.6 705.0,829.9 705.3,829.8 705.5,830.2 705.8,830.4 706.1,828.6 706.4,830.9 706.6,832.2 706.9,831.8 707.2,832.5 707.4,832.1 707.7,831.9 708.0,833.2 708.2,832.8 708.5,832.7 708.8,833.6 709.0,833.2 709.3,834.4 709.6,832.4 709.9,833.8 710.1,834.6 710.4,834.5 710.7,834.3 710.9,835.2 711.2,833.3 711.5,837.2 711.8,835.0 712.0,833.6 712.3,835.4 712.6,835.2 712.8,835.1 713.1,833.9 713.4,834.8 713.6,834.8 713.9,835.0 714.2,835.8 714.5,834.4 714.7,834.9 715.0,836.6 715.3,834.0 715.5,835.4 715.8,835.0 716.1,834.6 716.3,835.3 716.6,834.6 716.9,835.4 717.1,834.6 717.4,834.5 717.7,834.7 718.0,834.9 718.2,834.6 718.5,834.2 718.8,834.5 719.0,836.1 719.3,835.1 719.6,834.6 719.9,835.2 720.1,836.3 720.4,834.5 720.7,834.5 720.9,834.5 721.2,835.2 721.5,834.4 721.7,835.7 722.0,833.9 722.3,834.3 722.5,833.7 722.8,834.7 723.1,833.0 723.4,833.6 723.6,833.5 723.9,834.0 724.2,833.0 724.4,832.1 724.7,832.9 725.0,831.9 725.2,832.7 725.5,831.9 725.8,831.8 726.1,832.2 726.3,831.9 726.6,830.6 726.9,830.7 727.1,829.7 727.4,829.2 727.7,829.8 728.0,830.0 728.2,830.0 728.5,829.9 728.8,829.2 729.0,827.2 729.3,828.2 729.6,828.1 729.8,828.0 730.1,828.6 730.4,826.4 730.6,829.7 730.9,828.2 731.2,827.8 731.5,827.9 731.7,827.7 732.0,828.1 732.3,826.9 732.5,826.8 732.8,826.9 733.1,827.1 733.4,827.6 733.6,827.5 733.9,826.7 734.2,826.6 734.4,826.6 734.7,827.3 735.0,827.6 735.2,827.5 735.5,825.5 735.8,826.0 736.0,827.1 736.3,827.3 736.6,827.8 736.9,828.0 737.1,826.7 737.4,826.8 737.7,827.3 737.9,826.6 738.2,826.4 738.5,826.7 738.8,826.6 739.0,827.9 739.3,826.4 739.6,826.9 739.8,830.2 740.1,828.5 740.4,829.7 740.6,830.6 740.9,828.2 741.2,830.3 741.5,830.0 741.7,830.3 742.0,831.6 742.3,830.9 742.5,830.9 742.8,831.0 743.1,831.3 743.3,832.8 743.6,831.8 743.9,832.5 744.1,832.0 744.4,831.4 744.7,832.7 745.0,832.0 745.2,832.5 745.5,832.4 745.8,832.3 746.0,831.3 746.3,832.3 746.6,832.3 746.9,833.3 747.1,832.2 747.4,832.5 747.7,832.4 747.9,833.3 748.2,834.1 748.5,833.1 748.7,834.1 749.0,833.9 749.3,833.6 749.5,833.3 749.8,834.6 750.1,835.8 750.4,831.9 750.6,834.4 750.9,833.8 751.2,834.7 751.4,836.0 751.7,835.5 752.0,834.8 752.2,834.7 752.5,832.5 752.8,834.8 753.1,834.9 753.3,835.7 753.6,835.5 753.9,835.8 754.1,833.8 754.4,835.5 754.7,834.9 755.0,835.5 755.2,834.7 755.5,835.0 755.8,835.2 756.0,835.3 756.3,837.7 756.6,835.3 756.8,835.6 757.1,834.5 757.4,836.9 757.6,835.6 757.9,836.7 758.2,835.5 758.5,836.3 758.7,835.5 759.0,835.6 759.3,835.8 759.5,834.9 759.8,835.6 760.1,835.5 760.4,835.6 760.6,836.6 760.9,835.6 761.2,836.8 761.4,835.0 761.7,836.7 762.0,835.0 762.2,835.5 762.5,836.4 762.8,836.4 763.0,834.6 763.3,836.7 763.6,836.6 763.9,833.4 764.1,835.9 764.4,835.8 764.7,835.7 764.9,836.4 765.2,836.8 765.5,837.5 765.8,836.7 766.0,837.2 766.3,836.5 766.6,836.1 766.8,836.1 767.1,836.6 767.4,837.6 767.6,837.2 767.9,836.0 768.2,836.9 768.5,835.1 768.7,837.9 769.0,837.3 769.3,836.4 769.5,836.7 769.8,837.3 770.1,836.2 770.3,836.8 770.6,836.8 770.9,836.3 771.1,836.1 771.4,834.7 771.7,835.9 772.0,834.7 772.2,834.8 772.5,834.1 772.8,832.6 773.0,833.6 773.3,832.8 773.6,831.9 773.9,833.1 774.1,830.6 774.4,829.5 774.7,829.4 774.9,828.9 775.2,827.5 775.5,827.7 775.7,826.2 776.0,825.8 776.3,825.1 776.5,825.0 776.8,823.5 777.1,822.8 777.4,822.1 777.6,820.9 777.9,820.0 778.2,819.7 778.4,819.1 778.7,817.5 779.0,817.2 779.2,817.2 779.5,816.0 779.8,814.7 780.1,815.9 780.3,816.8 780.6,818.3 780.9,819.7 781.1,821.7 781.4,820.9 781.7,823.1 782.0,823.2 782.2,824.1 782.5,824.6 782.8,825.6 783.0,827.7 783.3,829.3 783.6,829.2 783.8,829.3 784.1,830.0 784.4,830.6 784.6,829.6 784.9,830.4 785.2,831.0 785.5,832.4 785.7,832.6 786.0,832.2 786.3,832.7 786.5,832.8 786.8,834.3 787.1,835.1 787.4,833.8 787.6,834.9 787.9,833.9 788.2,834.1 788.4,834.4 788.7,834.4 789.0,833.8 789.2,834.3 789.5,834.1 789.8,833.7 790.0,833.7 790.3,835.5 790.6,835.1 790.9,833.9 791.1,834.0 791.4,833.7 791.7,834.9 791.9,834.5 792.2,834.0 792.5,835.2 792.8,834.6 793.0,834.7 793.3,834.8 793.6,833.3 793.8,834.4 794.1,834.9 794.4,836.9 794.6,835.9 794.9,835.7 795.2,835.0 795.5,835.3 795.7,836.7 796.0,836.1 796.3,836.1 796.5,835.5 796.8,835.7 797.1,836.0 797.3,837.4 797.6,837.0 797.9,837.3 798.1,836.1 798.4,838.1 798.7,837.7 799.0,837.7 799.2,838.5 799.5,837.7 799.8,837.6 800.0,838.6 800.3,838.0 800.6,838.4 800.9,839.1 801.1,838.5 801.4,838.0 801.7,838.5 801.9,838.3 802.2,838.0 802.5,837.7 802.7,838.1 803.0,839.2 803.3,839.3 803.5,837.8 803.8,839.3 804.1,840.1 804.4,839.0 804.6,838.2 804.9,838.8 805.2,839.3 805.4,839.9 805.7,839.4 806.0,839.2 806.2,839.2 806.5,838.7 806.8,838.8 807.1,838.8 807.3,838.9 807.6,839.1 807.9,838.6 808.1,840.1 808.4,839.8 808.7,839.7 809.0,839.8 809.2,839.0 809.5,841.1 809.8,840.9 810.0,839.7 810.3,839.5 810.6,839.6 810.8,839.7 811.1,840.3 811.4,839.6 811.6,837.4 811.9,839.8 812.2,837.4 812.5,839.7 812.7,839.6 813.0,840.4 813.3,839.4 813.5,839.9 813.8,839.9 814.1,839.5 814.4,839.6 814.6,838.4 814.9,840.1 815.2,839.2 815.4,839.2 815.7,839.6 816.0,839.4 816.2,839.6 816.5,840.2 816.8,839.8 817.0,839.5 817.3,838.7 817.6,841.2 817.9,839.2 818.1,837.0 818.4,837.8 818.7,838.3 818.9,837.1 819.2,837.2 819.5,838.1 819.8,836.4 820.0,835.5 820.3,834.9 820.6,834.4 820.8,834.2 821.1,833.4 821.4,834.3 821.6,832.8 821.9,835.4 822.2,835.3 822.5,835.9 822.7,835.8 823.0,836.6 823.3,836.8 823.5,837.8 823.8,839.1 824.1,838.1 824.3,837.9 824.6,837.4 824.9,840.0 825.1,838.9 825.4,839.7 825.7,839.1 826.0,840.4 826.2,839.5 826.5,839.3 826.8,839.9 827.0,839.6 827.3,840.0 827.6,840.4 827.9,838.9 828.1,840.1 828.4,839.9 828.7,839.4 828.9,839.2 829.2,839.7 829.5,840.4 829.7,839.4 830.0,839.9 830.3,840.7 830.5,840.5 830.8,840.3 831.1,839.9 831.4,840.4 831.6,840.7 831.9,840.0 832.2,842.0 832.4,839.8 832.7,839.4 833.0,839.9 833.2,842.8 833.5,838.8 833.8,840.5 834.1,840.6 834.3,840.9 834.6,840.8 834.9,840.7 835.1,839.7 835.4,842.0 835.7,840.8 836.0,840.5 836.2,840.2 836.5,841.2 836.8,839.6 837.0,842.1 837.3,839.9 837.6,839.1 837.8,841.4 838.1,840.8 838.4,839.7 838.6,841.1 838.9,841.3 839.2,840.5 839.5,840.9 839.7,840.8 840.0,840.3 840.3,840.7 840.5,839.7 840.8,839.9 841.1,841.3 841.4,840.5 841.6,841.1 841.9,840.5 842.2,840.5 842.4,840.8 842.7,839.9 843.0,838.8 843.2,838.0 843.5,839.2 843.8,839.0 844.0,836.1 844.3,836.7 844.6,837.9 844.9,836.9 845.1,837.4 845.4,835.7 845.7,835.5 845.9,835.7 846.2,835.5 846.5,834.7 846.8,835.4 847.0,833.2 847.3,832.8 847.6,832.4 847.8,830.4 848.1,829.3 848.4,828.6 848.6,826.7 848.9,825.8 849.2,825.2 849.5,823.3 849.7,823.0 850.0,821.2 850.3,820.7 850.5,821.1 850.8,818.3 851.1,818.2 851.3,818.3 851.6,817.9 851.9,816.1 852.1,815.8 852.4,815.4 852.7,814.7 853.0,815.6 853.2,816.3 853.5,818.8 853.8,819.4 854.0,820.8 854.3,822.2 854.6,823.9 854.9,826.5 855.1,826.1 855.4,827.4 855.7,829.8 855.9,829.3 856.2,830.4 856.5,832.6 856.7,831.9 857.0,833.0 857.3,832.0 857.5,834.6 857.8,834.8 858.1,835.8 858.4,836.1 858.6,838.0 858.9,837.9 859.2,838.6 859.4,838.9 859.7,838.3 860.0,839.4 860.2,839.0 860.5,840.2 860.8,840.9 861.1,839.6 861.3,841.5 861.6,840.6 861.9,840.8 862.1,841.2 862.4,840.1 862.7,841.4 863.0,840.7 863.2,841.5 863.5,842.0 863.8,841.6 864.0,841.8 864.3,841.4 864.6,840.3 864.8,841.7 865.1,840.8 865.4,842.1 865.6,842.0 865.9,839.2 866.2,841.4 866.5,841.6 866.7,840.4 867.0,840.0 867.3,841.8 867.5,842.3 867.8,841.7 868.1,842.5 868.4,841.8 868.6,841.0 868.9,841.6 869.2,841.0 869.4,840.8 869.7,840.2 870.0,839.7 870.2,839.2 870.5,837.5 870.8,838.0 871.0,837.6 871.3,837.5 871.6,837.1 871.9,836.0 872.1,835.0 872.4,834.6 872.7,835.3 872.9,834.4 873.2,833.4 873.5,832.7 873.8,833.3 874.0,832.7 874.3,832.3 874.6,831.2 874.8,833.2 875.1,832.6 875.4,833.5 875.6,833.8 875.9,834.4 876.2,835.5 876.5,836.1 876.7,836.3 877.0,837.9 877.3,838.3 877.5,839.9 877.8,837.4 878.1,838.8 878.3,839.5 878.6,840.2 878.9,839.7 879.1,839.5 879.4,840.3 879.7,840.6 880.0,838.6 880.2,840.6 880.5,842.5 880.8,840.0 881.0,840.4 881.3,840.8 881.6,841.6 881.9,842.1 882.1,842.9 882.4,841.6 882.7,842.4 882.9,842.8 883.2,843.0 883.5,842.8 883.7,842.5 884.0,843.0 884.3,842.5 884.5,842.2 884.8,842.0 885.1,842.5 885.4,842.6 885.6,842.6 885.9,843.0 886.2,842.9 886.4,842.6 886.7,841.8 887.0,840.5 887.2,841.6 887.5,842.9 887.8,842.2 888.1,842.3 888.3,842.5 888.6,842.8 888.9,842.8 889.1,842.4 889.4,842.9 889.7,842.7 890.0,843.1 890.2,842.1 890.5,841.7 890.8,842.0 891.0,842.4 891.3,841.8 891.6,842.8 891.8,843.0 892.1,841.6 892.4,842.6 892.6,842.8 892.9,842.8 893.2,842.1 893.5,842.4 893.7,842.2 894.0,842.1 894.3,843.9 894.5,842.6 894.8,841.7 895.1,841.8 895.4,841.1 895.6,841.6 895.9,841.9 896.2,842.4 896.4,841.8 896.7,842.3 897.0,840.4 897.2,842.0 897.5,840.9 897.8,839.7 898.0,841.1 898.3,840.6 898.6,840.9 898.9,839.9 899.1,840.9 899.4,840.4 899.7,839.6 899.9,840.5 900.2,840.4 900.5,838.7 900.8,841.9 901.0,839.7 901.3,839.4 901.6,839.7 901.8,839.1 902.1,839.9 902.4,839.6 902.6,838.8 902.9,840.6 903.2,838.9 903.5,838.6 903.7,838.7 904.0,838.9 904.3,839.4 904.5,838.3 904.8,837.6 905.1,838.3 905.3,837.7 905.6,838.4 905.9,838.5 906.1,837.8 906.4,835.8 906.7,837.8 907.0,837.0 907.2,836.5 907.5,837.5 907.8,836.4 908.0,836.8 908.3,834.5 908.6,836.1 908.9,835.9 909.1,836.1 909.4,834.8 909.7,833.8 909.9,832.7 910.2,832.3 910.5,831.0 910.7,829.2 911.0,827.6 911.3,827.2 911.5,825.9 911.8,825.2 912.1,823.8 912.4,823.0 912.6,819.9 912.9,819.5 913.2,816.3 913.4,815.7 913.7,813.4 914.0,813.0 914.2,810.0 914.5,810.1 914.8,807.3 915.1,806.5 915.3,806.2 915.6,805.0 915.9,804.2 916.1,805.8 916.4,803.5 916.7,802.1 917.0,803.6 917.2,805.3 917.5,806.2 917.8,808.1 918.0,809.3 918.3,812.2 918.6,813.1 918.8,814.5 919.1,816.1 919.4,816.8 919.6,819.2 919.9,821.1 920.2,822.7 920.5,823.9 920.7,825.3 921.0,827.6 921.3,829.3 921.5,830.2 921.8,832.1 922.1,829.4 922.4,833.3 922.6,833.7 922.9,833.9 923.2,835.0 923.4,835.1 923.7,835.3 924.0,838.5 924.2,836.0 924.5,836.3 924.8,835.7 925.0,836.4 925.3,836.9 925.6,836.6 925.9,835.8 926.1,833.4 926.4,834.8 926.7,834.3 926.9,834.1 927.2,833.8 927.5,833.3 927.8,832.2 928.0,832.1 928.3,831.8 928.6,831.8 928.8,830.0 929.1,830.4 929.4,829.8 929.6,829.6 929.9,828.5 930.2,827.8 930.5,826.6 930.7,826.3 931.0,826.7 931.3,827.3 931.5,827.3 931.8,828.1 932.1,827.4 932.3,828.5 932.6,827.7 932.9,829.2 933.1,827.3 933.4,828.4 933.7,828.5 934.0,826.4 934.2,828.9 934.5,828.4 934.8,828.1 935.0,830.3 935.3,828.1 935.6,831.5 935.9,829.6 936.1,829.7 936.4,829.8 936.7,830.3 936.9,829.9 937.2,831.7 937.5,829.2 937.7,828.9 938.0,831.7 938.3,829.2 938.5,831.3 938.8,831.0 939.1,831.0 939.4,831.0 939.6,832.3 939.9,832.4 940.2,830.6 940.4,832.3 940.7,832.0 941.0,831.0 941.2,833.0 941.5,831.8 941.8,833.2 942.1,833.2 942.3,831.9 942.6,834.1 942.9,833.3 943.1,832.3 943.4,833.0 943.7,833.5 944.0,832.8 944.2,833.6 944.5,834.5 944.8,834.9 945.0,835.7 945.3,832.7 945.6,835.3 945.8,835.3 946.1,834.9 946.4,836.0 946.6,836.1 946.9,836.1 947.2,836.1 947.5,836.6 947.7,837.8 948.0,837.7 948.3,837.3 948.5,837.7 948.8,836.5 949.1,838.7 949.4,838.1 949.6,839.0 949.9,838.1 950.2,837.4 950.4,838.5 950.7,837.9 951.0,837.1 951.2,836.8 951.5,837.6 951.8,837.0 952.0,836.7 952.3,836.4 952.6,835.9 952.9,837.5 953.1,834.6 953.4,835.3 953.7,833.0 953.9,834.0 954.2,831.3 954.5,829.9 954.8,828.1 955.0,827.6 955.3,827.4 955.6,825.3 955.8,824.2 956.1,822.9 956.4,820.2 956.6,820.5 956.9,819.1 957.2,816.7 957.5,814.6 957.7,811.2 958.0,811.3 958.3,808.3 958.5,806.8 958.8,804.0 959.1,802.4 959.3,803.3 959.6,803.5 959.9,809.1 960.1,809.6 960.4,812.1 960.7,814.9 961.0,817.1 961.2,819.5 961.5,821.0 961.8,824.0 962.0,826.3 962.3,825.6 962.6,828.2 962.9,830.8 963.1,830.0 963.4,831.4 963.7,833.6 963.9,834.7 964.2,836.2 964.5,837.3 964.7,838.5 965.0,840.4 965.3,839.8 965.5,839.6 965.8,839.9 966.1,839.9 966.4,839.6 966.6,839.9 966.9,838.0 967.2,839.6 967.4,840.6 967.7,840.1 968.0,841.0 968.2,839.2 968.5,839.9 968.8,839.6 969.1,839.2 969.3,838.8 969.6,837.8 969.9,836.1 970.1,838.0 970.4,837.8 970.7,836.8 971.0,835.0 971.2,836.9 971.5,837.0 971.8,834.0 972.0,835.3 972.3,835.5 972.6,835.5 972.8,836.0 973.1,836.1 973.4,836.8 973.6,836.9 973.9,835.3 974.2,837.3 974.5,839.4 974.7,838.6 975.0,838.3 975.3,839.5 975.5,838.1 975.8,839.8 976.1,840.6 976.4,840.7 976.6,841.5 976.9,841.9 977.2,841.8 977.4,841.6 977.7,840.1 978.0,842.9 978.2,843.1 978.5,841.8 978.8,843.3 979.0,843.3 979.3,843.3 979.6,842.3 979.9,843.6 980.1,842.3 980.4,845.6 980.7,843.4 980.9,843.3 981.2,843.5 981.5,842.7 981.8,843.1 982.0,844.8 982.3,843.9 982.6,844.1 982.8,844.9 983.1,844.5 983.4,845.2 983.6,843.9 983.9,844.8 984.2,843.8 984.5,844.6 984.7,843.6 985.0,846.3 985.3,846.0 985.5,843.7 985.8,844.2 986.1,844.1 986.3,843.9 986.6,844.2 986.9,842.1 987.1,844.0 987.4,843.2 987.7,843.6 988.0,843.9 988.2,844.0 988.5,844.4 988.8,842.9 989.0,845.2 989.3,842.9 989.6,843.7 989.9,843.5 990.1,843.5 990.4,842.2 990.7,841.9 990.9,843.6 991.2,843.2 991.5,843.6 991.7,843.0 992.0,843.8 992.3,841.6 992.5,843.6 992.8,843.4 993.1,842.2 993.4,842.2 993.6,843.2 993.9,844.4 994.2,843.6 994.4,842.6 994.7,844.4 995.0,841.7 995.2,842.8 995.5,842.3 995.8,843.0 996.1,840.8 996.3,842.1 996.6,840.9 996.9,840.3 997.1,840.4 997.4,838.6 997.7,838.4 998.0,836.7 998.2,837.1 998.5,836.3 998.8,835.8 999.0,834.3 999.3,834.2 999.6,835.5 999.8,836.1 1000.1,837.0 1000.4,837.8 1000.6,839.0 1000.9,839.5 1001.2,841.3 1001.5,842.3 1001.7,843.2 1002.0,843.1 1002.3,843.7 1002.5,843.7 1002.8,843.8 1003.1,844.1 1003.4,844.9 1003.6,844.4 1003.9,843.3 1004.2,845.8 1004.4,844.5 1004.7,845.7 1005.0,845.4 1005.2,847.6 1005.5,847.9 1005.8,845.5 1006.0,846.3 1006.3,846.2 1006.6,848.2 1006.9,847.0 1007.1,846.8 1007.4,846.7 1007.7,847.2 1007.9,847.6 1008.2,847.0 1008.5,846.5 1008.8,847.3 1009.0,847.3 1009.3,848.8 1009.6,848.0 1009.8,847.3 1010.1,849.3 1010.4,846.2 1010.6,847.6 1010.9,847.1 1011.2,845.6 1011.5,846.3 1011.7,846.1 1012.0,847.2 1012.3,844.1 1012.5,847.9 1012.8,845.8 1013.1,846.2 1013.3,845.3 1013.6,845.7 1013.9,845.4 1014.1,845.6 1014.4,844.5 1014.7,846.0 1015.0,845.5 1015.2,844.7 1015.5,846.9 1015.8,846.0 1016.0,843.5 1016.3,844.1 1016.6,845.2 1016.9,845.3 1017.1,845.0 1017.4,844.1 1017.7,844.3 1017.9,843.6 1018.2,844.0 1018.5,843.7 1018.7,843.9 1019.0,845.0 1019.3,844.2 1019.5,844.1 1019.8,844.9 1020.1,845.0 1020.4,844.4 1020.6,844.6 1020.9,843.7 1021.2,845.2 1021.4,845.4 1021.7,844.3 1022.0,844.6 1022.2,844.9 1022.5,845.0 1022.8,844.1 1023.1,845.7 1023.3,845.6 1023.6,844.7 1023.9,844.5 1024.1,846.4 1024.4,845.2 1024.7,845.1 1025.0,844.9 1025.2,845.1 1025.5,846.1 1025.8,845.6 1026.0,846.5 1026.3,845.8 1026.6,846.6 1026.8,846.3 1027.1,846.6 1027.4,846.5 1027.7,845.2 1027.9,848.1 1028.2,846.9 1028.5,847.3 1028.7,846.9 1029.0,847.2 1029.3,846.3 1029.5,847.3 1029.8,846.2 1030.1,846.3 1030.3,845.6 1030.6,846.3 1030.9,846.1 1031.2,845.4 1031.4,845.2 1031.7,847.7 1032.0,846.9 1032.2,846.1 1032.5,845.8 1032.8,845.4 1033.0,845.1 1033.3,844.3 1033.6,845.0 1033.9,844.1 1034.1,844.7 1034.4,845.3 1034.7,844.5 1034.9,844.4 1035.2,844.8 1035.5,843.6 1035.8,843.1 1036.0,843.2 1036.3,844.3 1036.6,843.9 1036.8,843.9 1037.1,843.5 1037.4,842.4 1037.6,841.9 1037.9,843.1 1038.2,840.9 1038.5,843.7 1038.7,843.0 1039.0,842.5 1039.3,843.2 1039.5,843.0 1039.8,841.9 1040.1,840.8 1040.3,841.2 1040.6,840.2 1040.9,841.9 1041.2,840.2 1041.4,840.7 1041.7,839.9 1042.0,838.7 1042.2,839.9 1042.5,839.6 1042.8,838.7 1043.0,838.8 1043.3,836.9 1043.6,837.7 1043.8,837.4 1044.1,836.8 1044.4,838.4 1044.7,838.3 1044.9,836.8 1045.2,836.6 1045.5,835.7 1045.7,835.1 1046.0,833.5 1046.3,833.7 1046.5,833.9 1046.8,833.6 1047.1,833.3 1047.4,832.6 1047.6,833.1 1047.9,832.5 1048.2,831.4 1048.4,831.2 1048.7,830.2 1049.0,828.9 1049.2,829.8 1049.5,828.5 1049.8,828.5 1050.1,827.6 1050.3,826.7 1050.6,825.5 1050.9,824.3 1051.1,820.2 1051.4,821.8 1051.7,820.4 1052.0,818.5 1052.2,816.7 1052.5,815.5 1052.8,815.5 1053.0,814.0 1053.3,812.5 1053.6,809.5 1053.8,811.0 1054.1,811.6 1054.4,814.0 1054.7,817.1 1054.9,820.7 1055.2,819.2 1055.5,821.1 1055.7,823.6 1056.0,825.2 1056.3,828.6 1056.5,828.7 1056.8,830.8 1057.1,832.3 1057.3,833.5 1057.6,833.0 1057.9,833.5 1058.2,836.9 1058.4,838.4 1058.7,838.8 1059.0,840.1 1059.2,840.6 1059.5,842.7 1059.8,844.0 1060.0,845.3 1060.3,844.7 1060.6,845.2 1060.9,845.0 1061.1,844.8 1061.4,845.7 1061.7,844.7 1061.9,846.5 1062.2,845.7 1062.5,844.3 1062.8,845.7 1063.0,846.0 1063.3,845.8 1063.6,847.3 1063.8,846.3 1064.1,845.6 1064.4,846.3 1064.6,846.4 1064.9,845.7 1065.2,847.9 1065.5,847.0 1065.7,845.9 1066.0,846.9 1066.3,847.6 1066.5,846.5 1066.8,846.5 1067.1,847.8 1067.3,847.5 1067.6,846.4 1067.9,846.6 1068.2,847.2 1068.4,847.7 1068.7,847.0 1069.0,847.7 1069.2,847.6 1069.5,847.2 1069.8,845.9 1070.0,846.2 1070.3,846.4 1070.6,845.7 1070.8,845.2 1071.1,845.5 1071.4,846.5 1071.7,845.2 1071.9,845.8 1072.2,845.3 1072.5,844.7 1072.7,844.5 1073.0,844.4 1073.3,844.6 1073.5,843.8 1073.8,844.6 1074.1,843.6 1074.4,843.0 1074.6,844.8 1074.9,844.5 1075.2,844.7 1075.4,843.0 1075.7,842.7 1076.0,842.2 1076.2,842.6 1076.5,840.3 1076.8,840.1 1077.1,840.4 1077.3,838.7 1077.6,837.2 1077.9,836.3 1078.1,836.6 1078.4,836.7 1078.7,833.9 1079.0,834.2 1079.2,832.6 1079.5,831.9 1079.8,830.7 1080.0,830.0 1080.3,829.7 1080.6,830.0 1080.8,831.1 1081.1,831.6 1081.4,830.3 1081.7,833.5 1081.9,834.8 1082.2,834.7 1082.5,836.2 1082.7,837.1 1083.0,837.4 1083.3,838.8 1083.5,840.5 1083.8,840.6 1084.1,842.6 1084.3,842.1 1084.6,840.7 1084.9,839.7 1085.2,842.2 1085.4,841.8 1085.7,842.1 1086.0,843.2 1086.2,842.7 1086.5,843.3 1086.8,842.9 1087.0,843.3 1087.3,843.4 1087.6,845.2 1087.9,843.4 1088.1,844.0 1088.4,844.2 1088.7,843.8 1088.9,842.6 1089.2,841.5 1089.5,841.0 1089.8,839.8 1090.0,839.3 1090.3,837.6 1090.6,837.9 1090.8,837.6 1091.1,835.0 1091.4,834.5 1091.6,834.4 1091.9,834.4 1092.2,832.0 1092.5,829.8 1092.7,829.4 1093.0,828.3 1093.3,827.8 1093.5,828.4 1093.8,826.2 1094.1,823.0 1094.3,821.2 1094.6,821.1 1094.9,819.7 1095.2,817.7 1095.4,818.4 1095.7,815.9 1096.0,814.8 1096.2,813.7 1096.5,813.2 1096.8,811.9 1097.0,811.2 1097.3,810.7 1097.6,809.5 1097.8,808.6 1098.1,811.1 1098.4,812.3 1098.7,813.9 1098.9,815.4 1099.2,816.2 1099.5,818.8 1099.7,820.4 1100.0,821.0 1100.3,822.7 1100.5,823.8 1100.8,825.2 1101.1,827.4 1101.4,828.2 1101.6,828.9 1101.9,830.3 1102.2,830.6 1102.4,831.3 1102.7,833.6 1103.0,834.1 1103.2,835.5 1103.5,839.2 1103.8,839.2 1104.1,839.8 1104.3,840.1 1104.6,839.8 1104.9,841.8 1105.1,842.1 1105.4,842.0 1105.7,842.9 1106.0,842.1 1106.2,843.1 1106.5,844.6 1106.8,843.8 1107.0,843.9 1107.3,845.2 1107.6,844.9 1107.8,846.3 1108.1,845.3 1108.4,846.3 1108.7,847.3 1108.9,846.3 1109.2,846.7 1109.5,845.3 1109.7,845.5 1110.0,846.6 1110.3,845.7 1110.5,846.3 1110.8,846.1 1111.1,845.8 1111.3,845.3 1111.6,845.7 1111.9,846.2 1112.2,845.5 1112.4,845.8 1112.7,846.8 1113.0,847.2 1113.2,845.5 1113.5,845.9 1113.8,845.7 1114.0,846.9 1114.3,845.5 1114.6,847.4 1114.9,846.2 1115.1,845.6 1115.4,845.5 1115.7,844.6 1115.9,846.1 1116.2,846.1 1116.5,845.4 1116.8,845.5 1117.0,845.1 1117.3,846.4 1117.6,845.4 1117.8,843.5 1118.1,844.7 1118.4,846.6 1118.6,843.7 1118.9,844.9 1119.2,846.7 1119.5,845.3 1119.7,845.1 1120.0,845.7 1120.3,844.5 1120.5,844.2 1120.8,844.9 1121.1,845.1 1121.3,844.5 1121.6,845.3 1121.9,844.7 1122.2,844.9 1122.4,845.2 1122.7,844.3 1123.0,844.8 1123.2,845.1 1123.5,845.0 1123.8,844.5 1124.0,844.3 1124.3,844.1 1124.6,845.5 1124.8,844.1 1125.1,844.8 1125.4,844.7 1125.7,844.4 1125.9,844.6 1126.2,845.7 1126.5,844.2 1126.7,843.5 1127.0,844.2 1127.3,844.2 1127.5,842.8 1127.8,845.8 1128.1,843.8 1128.4,844.5 1128.6,845.0 1128.9,845.9 1129.2,844.8 1129.4,844.3 1129.7,842.9 1130.0,844.8 1130.2,843.9 1130.5,845.0 1130.8,843.7 1131.1,841.5 1131.3,843.7 1131.6,844.2 1131.9,843.8 1132.1,845.3 1132.4,846.3 1132.7,844.0 1133.0,844.3 1133.2,844.0 1133.5,845.5 1133.8,843.8 1134.0,844.6 1134.3,846.3 1134.6,842.7 1134.8,844.6 1135.1,844.6 1135.4,844.8 1135.7,845.0 1135.9,844.9 1136.2,844.6 1136.5,844.4 1136.7,844.1 1137.0,844.4 1137.3,844.9 1137.5,845.0 1137.8,845.2 1138.1,846.7 1138.3,845.4 1138.6,845.1 1138.9,844.3 1139.2,844.5 1139.4,843.7 1139.7,844.7 1140.0,843.8 1140.2,846.0 1140.5,842.7 1140.8,844.3 1141.0,842.1 1141.3,841.7 1141.6,842.3 1141.9,841.8 1142.1,842.0 1142.4,841.7 1142.7,841.7 1142.9,840.9 1143.2,841.2 1143.5,840.5 1143.8,839.3 1144.0,839.6 1144.3,839.5 1144.6,838.7 1144.8,838.3 1145.1,837.3 1145.4,836.3 1145.6,834.0 1145.9,832.5 1146.2,832.7 1146.5,831.4 1146.7,831.6 1147.0,828.3 1147.3,828.6 1147.5,827.3 1147.8,825.4 1148.1,825.6 1148.3,823.8 1148.6,822.2 1148.9,820.7 1149.2,818.4 1149.4,819.1 1149.7,816.5 1150.0,814.9 1150.2,814.3 1150.5,815.0 1150.8,815.2 1151.0,817.0 1151.3,818.4 1151.6,819.1 1151.8,820.0 1152.1,819.5 1152.4,820.1 1152.7,820.4 1152.9,822.0 1153.2,821.9 1153.5,823.5 1153.7,824.6 1154.0,825.1 1154.3,826.5 1154.5,827.9 1154.8,828.2 1155.1,829.3 1155.4,831.6 1155.6,832.2 1155.9,833.7 1156.2,834.7 1156.4,835.6 1156.7,836.6 1157.0,837.4 1157.2,837.7 1157.5,838.4 1157.8,838.5 1158.1,836.9 1158.3,839.1 1158.6,840.3 1158.9,841.1 1159.1,840.3 1159.4,840.1 1159.7,842.5 1160.0,842.8 1160.2,842.3 1160.5,843.6 1160.8,842.5 1161.0,842.1 1161.3,842.9 1161.6,843.1 1161.8,842.6 1162.1,844.3 1162.4,843.3 1162.7,844.1 1162.9,842.8 1163.2,841.4 1163.5,843.0 1163.7,843.9 1164.0,842.6 1164.3,842.1 1164.5,844.2 1164.8,843.1 1165.1,842.5 1165.3,843.1 1165.6,843.8 1165.9,842.9 1166.2,842.8 1166.4,842.6 1166.7,845.1 1167.0,844.1 1167.2,843.8 1167.5,844.6 1167.8,843.5 1168.0,843.7 1168.3,843.9 1168.6,843.9 1168.9,843.3 1169.1,844.3 1169.4,845.9 1169.7,844.6 1169.9,844.4 1170.2,844.4 1170.5,844.8 1170.8,844.8 1171.0,845.4 1171.3,846.0 1171.6,844.3 1171.8,844.5 1172.1,844.2 1172.4,844.4 1172.6,845.5 1172.9,845.0 1173.2,844.7 1173.5,844.7 1173.7,844.2 1174.0,844.3 1174.3,843.4 1174.5,844.7 1174.8,844.0 1175.1,842.1 1175.3,843.2 1175.6,842.3 1175.9,844.4 1176.2,842.1 1176.4,842.1 1176.7,843.6 1177.0,841.8 1177.2,841.6 1177.5,840.3 1177.8,840.2 1178.0,839.6 1178.3,839.2 1178.6,838.7 1178.8,839.4 1179.1,839.6 1179.4,839.0 1179.7,837.9 1179.9,837.4 1180.2,840.3 1180.5,840.0 1180.7,840.8 1181.0,840.8 1181.3,842.0 1181.5,842.6 1181.8,842.4 1182.1,842.6 1182.4,843.8 1182.6,843.8 1182.9,844.8 1183.2,844.6 1183.4,845.1 1183.7,846.2 1184.0,846.2 1184.2,844.6 1184.5,846.4 1184.8,846.1 1185.1,846.7 1185.3,846.6 1185.6,846.4 1185.9,848.6 1186.1,847.5 1186.4,848.0 1186.7,848.4 1187.0,848.2 1187.2,850.5 1187.5,848.6 1187.8,849.4 1188.0,850.8 1188.3,849.1 1188.6,847.6 1188.8,849.1 1189.1,846.6 1189.4,849.0 1189.7,848.9 1189.9,849.4 1190.2,848.5 1190.5,848.9 1190.7,848.4 1191.0,850.4 1191.3,850.2 1191.5,847.9 1191.8,847.8 1192.1,849.0 1192.3,848.0 1192.6,848.5 1192.9,850.1 1193.2,847.8 1193.4,848.7 1193.7,847.9 1194.0,848.9 1194.2,849.1 1194.5,848.6 1194.8,848.3 1195.0,848.6 1195.3,848.2 1195.6,846.6 1195.9,848.0 1196.1,847.5 1196.4,848.2 1196.7,848.3 1196.9,847.6 1197.2,848.4 1197.5,848.3 1197.8,848.1 1198.0,848.5 1198.3,847.8 1198.6,849.2 1198.8,848.5 1199.1,847.2 1199.4,845.9 1199.6,847.5 1199.9,847.3 1200.2,847.7 1200.5,848.7 1200.7,846.6 1201.0,846.9 1201.3,847.6 1201.5,847.5 1201.8,848.9 1202.1,847.7 1202.3,847.2 1202.6,847.1 1202.9,847.9 1203.2,848.6 1203.4,848.5 1203.7,848.4 1204.0,847.3 1204.2,848.1 1204.5,847.2 1204.8,847.2 1205.0,847.9 1205.3,846.4 1205.6,847.9 1205.8,847.6 1206.1,847.9 1206.4,847.7 1206.7,847.4 1206.9,849.1 1207.2,848.1 1207.5,847.3 1207.7,848.4 1208.0,846.8 1208.3,847.2 1208.5,847.0 1208.8,848.0 1209.1,846.6 1209.4,847.6 1209.6,847.7 1209.9,847.2 1210.2,847.9 1210.4,848.2 1210.7,847.9 1211.0,849.8 1211.2,847.7 1211.5,847.2 1211.8,849.1 1212.1,847.2 1212.3,848.3 1212.6,848.2 1212.9,847.9 1213.1,847.4 1213.4,845.7 1213.7,847.3 1214.0,847.6 1214.2,848.4 1214.5,848.2 1214.8,848.0 1215.0,847.9 1215.3,847.1 1215.6,848.3 1215.8,848.4 1216.1,847.8 1216.4,847.7 1216.7,848.6 1216.9,847.6 1217.2,847.5 1217.5,847.6 1217.7,847.8 1218.0,847.6 1218.3,846.9 1218.5,848.4 1218.8,848.1 1219.1,848.3 1219.3,846.8 1219.6,848.8 1219.9,847.9 1220.2,849.8 1220.4,847.7 1220.7,849.1 1221.0,848.3 1221.2,848.4 1221.5,848.5 1221.8,845.8 1222.0,848.0 1222.3,848.7 1222.6,848.6 1222.9,848.7 1223.1,848.1 1223.4,847.5 1223.7,848.6 1223.9,848.7 1224.2,847.8 1224.5,848.4 1224.8,847.8 1225.0,848.2 1225.3,848.1 1225.6,848.4 1225.8,849.2 1226.1,848.3 1226.4,849.2 1226.6,848.4 1226.9,848.1 1227.2,848.3 1227.5,848.4 1227.7,847.9 1228.0,847.6 1228.3,849.3 1228.5,848.0 1228.8,848.0 1229.1,848.0 1229.3,848.3 1229.6,848.8 1229.9,848.7 1230.2,848.2 1230.4,849.0 1230.7,847.9 1231.0,848.1 1231.2,848.0 1231.5,847.7 1231.8,848.7 1232.0,847.6 1232.3,848.2 1232.6,848.7 1232.8,848.8 1233.1,848.7 1233.4,848.3 1233.7,848.7 1233.9,849.2 1234.2,849.0 1234.5,848.7 1234.7,848.2 1235.0,847.8 1235.3,847.9 1235.5,847.6 1235.8,848.5 1236.1,848.0 1236.4,848.5 1236.6,848.5 1236.9,847.8 1237.2,848.1 1237.4,847.6 1237.7,848.0 1238.0,847.6 1238.2,847.1 1238.5,847.4 1238.8,847.6 1239.1,847.8 1239.3,847.9 1239.6,848.0 1239.9,850.3 1240.1,847.1 1240.4,847.8 1240.7,848.3 1241.0,848.5 1241.2,847.5 1241.5,848.5 1241.8,848.1 1242.0,848.3 1242.3,847.6 1242.6,847.7 1242.8,848.7 1243.1,847.2 1243.4,848.4 1243.7,847.3 1243.9,848.0 1244.2,848.1 1244.5,847.5 1244.7,845.9 1245.0,847.6 1245.3,847.7 1245.5,847.8 1245.8,847.0 1246.1,847.6 1246.3,847.4 1246.6,846.6 1246.9,846.7 1247.2,848.3 1247.4,846.8 1247.7,847.4 1248.0,847.8 1248.2,848.1 1248.5,848.1 1248.8,847.6 1249.0,847.6 1249.3,847.7 1249.6,847.8 1249.9,846.5 1250.1,847.6 1250.4,846.9 1250.7,847.6 1250.9,846.2 1251.2,846.4 1251.5,846.9 1251.8,845.3 1252.0,845.4 1252.3,845.0 1252.6,844.1 1252.8,844.3 1253.1,844.1 1253.4,844.5 1253.6,843.3 1253.9,842.6 1254.2,843.0 1254.5,841.9 1254.7,841.9 1255.0,841.1 1255.3,840.9 1255.5,840.4 1255.8,840.7 1256.1,839.3 1256.3,838.0 1256.6,838.7 1256.9,837.0 1257.2,838.0 1257.4,834.8 1257.7,837.7 1258.0,834.3 1258.2,833.6 1258.5,832.3 1258.8,831.9 1259.0,831.8 1259.3,830.8 1259.6,832.5 1259.8,833.0 1260.1,833.9 1260.4,833.9 1260.7,835.6 1260.9,836.3 1261.2,836.3 1261.5,839.0 1261.7,838.3 1262.0,839.0 1262.3,840.4 1262.5,841.6 1262.8,841.6 1263.1,842.1 1263.4,843.4 1263.6,844.0 1263.9,843.8 1264.2,844.3 1264.4,843.7 1264.7,844.0 1265.0,845.0 1265.2,842.6 1265.5,843.9 1265.8,845.2 1266.1,845.2 1266.3,846.0 1266.6,846.1 1266.9,846.2 1267.1,847.2 1267.4,846.6 1267.7,845.5 1268.0,847.1 1268.2,847.5 1268.5,847.4 1268.8,847.3 1269.0,847.3 1269.3,847.4 1269.6,847.4 1269.8,847.5 1270.1,847.2 1270.4,846.4 1270.7,847.7 1270.9,847.5 1271.2,847.3 1271.5,847.5 1271.7,847.1 1272.0,847.8 1272.3,847.0 1272.5,846.9 1272.8,847.7 1273.1,847.0 1273.3,846.4 1273.6,848.1 1273.9,847.6 1274.2,846.8 1274.4,846.1 1274.7,847.5 1275.0,846.6 1275.2,847.6 1275.5,847.1 1275.8,847.2 1276.0,847.2 1276.3,846.4 1276.6,844.5 1276.9,848.2 1277.1,847.0 1277.4,847.9 1277.7,846.9 1277.9,846.5 1278.2,846.9 1278.5,846.5 1278.8,847.2 1279.0,846.8 1279.3,846.1 1279.6,846.9 1279.8,847.4 1280.1,847.1 1280.4,846.7 1280.6,845.5 1280.9,846.5 1281.2,846.2 1281.5,844.6 1281.7,845.2 1282.0,845.9 1282.3,846.3 1282.5,845.3 1282.8,845.9 1283.1,845.2 1283.3,845.2 1283.6,844.6 1283.9,845.2 1284.2,845.1 1284.4,844.6 1284.7,845.1 1285.0,844.8 1285.2,844.7 1285.5,844.8 1285.8,844.2 1286.0,844.3 1286.3,843.9 1286.6,844.0 1286.8,843.7 1287.1,844.5 1287.4,843.3 1287.7,843.3 1287.9,844.0 1288.2,843.1 1288.5,842.8 1288.7,842.7 1289.0,843.3 1289.3,843.8 1289.5,842.8 1289.8,843.1 1290.1,842.0 1290.4,842.0 1290.6,842.3 1290.9,844.2 1291.2,841.7 1291.4,842.0 1291.7,840.9 1292.0,841.4 1292.2,840.7 1292.5,840.3 1292.8,840.9 1293.1,840.4 1293.3,840.3 1293.6,840.3 1293.9,839.5 1294.1,839.4 1294.4,839.1 1294.7,838.9 1295.0,838.5 1295.2,839.4 1295.5,839.4 1295.8,838.5 1296.0,838.4 1296.3,838.3 1296.6,838.8 1296.8,838.3 1297.1,837.1 1297.4,837.7 1297.7,837.7 1297.9,838.6 1298.2,837.6 1298.5,840.3 1298.7,838.2 1299.0,841.0 1299.3,839.5 1299.5,837.3 1299.8,838.8 1300.1,837.9 1300.3,839.2 1300.6,839.8 1300.9,838.1 1301.2,839.6 1301.4,840.0 1301.7,840.6 1302.0,840.7 1302.2,840.1 1302.5,840.5 1302.8,840.6 1303.0,841.2 1303.3,840.8 1303.6,841.8 1303.9,841.6 1304.1,842.5 1304.4,841.6 1304.7,840.5 1304.9,843.1 1305.2,842.2 1305.5,842.6 1305.8,842.8 1306.0,843.2 1306.3,843.5 1306.6,843.3 1306.8,843.2 1307.1,844.0 1307.4,841.3 1307.6,844.2 1307.9,842.6 1308.2,844.7 1308.5,844.0 1308.7,844.5 1309.0,843.9 1309.3,844.2 1309.5,844.4 1309.8,844.9 1310.1,845.6 1310.3,844.5 1310.6,843.3 1310.9,845.7 1311.2,845.8 1311.4,845.2 1311.7,845.3 1312.0,847.3 1312.2,845.4 1312.5,845.6 1312.8,844.8 1313.0,846.5 1313.3,845.8 1313.6,845.5 1313.8,846.0 1314.1,846.2 1314.4,847.0 1314.7,846.7 1314.9,846.8 1315.2,846.7 1315.5,847.3 1315.7,848.2 1316.0,848.0 1316.3,847.2 1316.5,847.5 1316.8,847.3 1317.1,847.1 1317.4,847.6 1317.6,848.4 1317.9,848.7 1318.2,849.0 1318.4,848.5 1318.7,846.5 1319.0,847.5 1319.2,849.4 1319.5,847.8 1319.8,847.9 1320.1,847.6 1320.3,847.9 1320.6,847.6 1320.9,847.7 1321.1,848.2 1321.4,848.2 1321.7,848.1 1322.0,847.9 1322.2,846.3 1322.5,847.1 1322.8,849.2 1323.0,847.6 1323.3,847.4 1323.6,847.8 1323.8,847.5 1324.1,847.2 1324.4,847.4 1324.7,846.1 1324.9,846.9 1325.2,847.9 1325.5,847.9 1325.7,847.0 1326.0,847.7 1326.3,846.5 1326.5,847.9 1326.8,848.0 1327.1,847.2 1327.3,846.9 1327.6,847.2 1327.9,847.7 1328.2,846.8 1328.4,846.9 1328.7,846.9 1329.0,847.0 1329.2,845.9 1329.5,846.9 1329.8,846.9 1330.0,846.4 1330.3,846.5 1330.6,846.9 1330.9,846.6 1331.1,844.8 1331.4,846.5 1331.7,845.5 1331.9,846.0 1332.2,845.7 1332.5,845.8 1332.8,846.9 1333.0,843.6 1333.3,844.7 1333.6,845.7 1333.8,846.3 1334.1,844.5 1334.4,844.6 1334.6,843.7 1334.9,844.2 1335.2,843.2 1335.5,843.9 1335.7,843.2 1336.0,843.6 1336.3,845.2 1336.5,843.5 1336.8,841.6 1337.1,843.8 1337.3,842.6 1337.6,842.4 1337.9,842.4 1338.2,843.4 1338.4,843.5 1338.7,843.3 1339.0,843.9 1339.2,843.9 1339.5,843.7 1339.8,844.1 1340.0,843.9 1340.3,843.2 1340.6,845.8 1340.8,844.9 1341.1,846.3 1341.4,845.7 1341.7,844.3 1341.9,844.6 1342.2,845.1 1342.5,845.8 1342.7,845.5 1343.0,844.8 1343.3,846.2 1343.5,844.8 1343.8,845.5 1344.1,845.6 1344.4,845.4 1344.6,847.3 1344.9,846.0 1345.2,846.3 1345.4,846.3 1345.7,848.9 1346.0,846.7 1346.2,847.3 1346.5,846.5 1346.8,847.0 1347.1,846.5 1347.3,847.1 1347.6,847.6 1347.9,848.1 1348.1,846.7 1348.4,847.2 1348.7,847.8 1349.0,846.9 1349.2,846.8 1349.5,847.5 1349.8,847.5 1350.0,846.8 1350.3,847.5 1350.6,847.6 1350.8,847.8 1351.1,847.8 1351.4,848.1 1351.7,847.0 1351.9,847.5 1352.2,849.6 1352.5,848.5 1352.7,847.6 1353.0,847.0 1353.3,847.4 1353.5,848.1 1353.8,847.6 1354.1,846.8 1354.3,847.8 1354.6,847.9 1354.9,847.3 1355.2,847.7 1355.4,849.5 1355.7,848.7 1356.0,848.7 1356.2,848.2 1356.5,849.0 1356.8,847.5 1357.0,847.6 1357.3,848.7 1357.6,848.5 1357.9,848.7 1358.1,848.3 1358.4,847.6 1358.7,849.0 1358.9,848.6 1359.2,848.7 1359.5,848.3 1359.8,848.8 1360.0,848.5 1360.3,848.8 1360.6,850.5 1360.8,848.0 1361.1,848.1 1361.4,848.6 1361.6,848.4 1361.9,847.4 1362.2,847.8 1362.5,848.3 1362.7,847.7 1363.0,848.3 1363.3,846.6 1363.5,847.3 1363.8,846.7 1364.1,847.4 1364.3,848.0 1364.6,845.6 1364.9,846.3 1365.2,847.3 1365.4,847.5 1365.7,846.9 1366.0,846.6 1366.2,846.6 1366.5,846.9 1366.8,847.4 1367.0,847.1 1367.3,847.4 1367.6,846.5 1367.8,846.0 1368.1,846.1 1368.4,846.1 1368.7,846.7 1368.9,846.3 1369.2,845.9 1369.5,846.6 1369.7,847.2 1370.0,848.5 1370.3,846.0 1370.5,847.3 1370.8,845.6 1371.1,844.4 1371.4,846.7 1371.6,845.6 1371.9,845.5 1372.2,845.7 1372.4,844.8 1372.7,847.3 1373.0,845.6 1373.2,845.1 1373.5,845.7 1373.8,843.9 1374.1,846.2 1374.3,844.7 1374.6,845.3 1374.9,843.7 1375.1,845.8 1375.4,845.1 1375.7,843.6 1376.0,844.9 1376.2,844.1 1376.5,844.0 1376.8,843.8 1377.0,843.3 1377.3,843.6 1377.6,843.3 1377.8,842.1 1378.1,842.9 1378.4,843.5 1378.7,843.3 1378.9,843.0 1379.2,843.5 1379.5,843.0 1379.7,843.1 1380.0,843.1 1380.3,844.6 1380.5,843.7 1380.8,843.7 1381.1,845.2 1381.3,843.8 1381.6,844.6 1381.9,844.7 1382.2,844.9 1382.4,845.5 1382.7,846.5 1383.0,845.6 1383.2,844.7 1383.5,846.8 1383.8,845.3 1384.0,846.0 1384.3,846.1 1384.6,846.1 1384.9,846.2 1385.1,845.9 1385.4,845.6 1385.7,845.2 1385.9,845.7 1386.2,845.9 1386.5,844.1 1386.8,846.0 1387.0,845.7 1387.3,845.5 1387.6,846.5 1387.8,844.7 1388.1,844.9 1388.4,844.5 1388.6,844.2 1388.9,844.8 1389.2,844.2 1389.5,844.4 1389.7,844.5 1390.0,844.2 1390.3,844.4 1390.5,844.0 1390.8,844.4 1391.1,843.8 1391.3,844.1 1391.6,844.7 1391.9,843.6 1392.2,843.9 1392.4,842.9 1392.7,841.5 1393.0,842.4 1393.2,841.1 1393.5,841.2 1393.8,840.8 1394.0,839.9 1394.3,838.6 1394.6,838.1 1394.8,838.0 1395.1,837.5 1395.4,836.6 1395.7,836.4 1395.9,835.7 1396.2,834.6 1396.5,833.9 1396.7,832.8 1397.0,830.2 1397.3,827.7 1397.5,824.6 1397.8,821.8 1398.1,819.6 1398.4,815.8 1398.6,813.3 1398.9,811.8 1399.2,808.5 1399.4,804.0 1399.7,802.2 1400.0,799.1 1400.2,795.1 1400.5,791.2 1400.8,788.3 1401.1,790.6 1401.3,794.2 1401.6,798.1 1401.9,800.5 1402.1,804.5 1402.4,807.1 1402.7,809.2 1403.0,812.2 1403.2,812.9 1403.5,815.7 1403.8,818.2 1404.0,818.5 1404.3,819.7 1404.6,819.5 1404.8,819.3 1405.1,820.3 1405.4,821.0 1405.7,823.3 1405.9,825.2 1406.2,829.0 1406.5,832.8 1406.7,833.2 1407.0,836.7 1407.3,839.1 1407.5,839.2 1407.8,839.4 1408.1,840.2 1408.3,843.2 1408.6,841.3 1408.9,844.2 1409.2,845.0 1409.4,845.9 1409.7,846.3 1410.0,848.6 1410.2,847.7 1410.5,847.3 1410.8,848.5 1411.0,847.4 1411.3,846.7 1411.6,847.4 1411.9,847.0 1412.1,847.3 1412.4,847.5 1412.7,845.5 1412.9,847.7 1413.2,845.5 1413.5,847.9 1413.8,846.5 1414.0,848.2 1414.3,846.5 1414.6,846.8 1414.8,847.2 1415.1,847.1 1415.4,845.9 1415.6,846.6 1415.9,847.4 1416.2,847.8 1416.5,846.9 1416.7,847.5 1417.0,847.2 1417.3,846.8 1417.5,847.2 1417.8,847.3 1418.1,846.0 1418.3,846.9 1418.6,847.0 1418.9,847.1 1419.2,846.4 1419.4,848.9 1419.7,847.5 1420.0,846.2 1420.2,846.6 1420.5,846.1 1420.8,848.9 1421.0,847.0 1421.3,846.7 1421.6,847.0 1421.8,846.5 1422.1,846.4 1422.4,846.7 1422.7,846.9 1422.9,845.6 1423.2,846.0 1423.5,846.2 1423.7,846.7 1424.0,846.7 1424.3,845.4 1424.5,846.6 1424.8,847.0 1425.1,846.8 1425.4,846.5 1425.6,846.9 1425.9,846.5 1426.2,845.4 1426.4,847.7 1426.7,847.1 1427.0,848.8 1427.2,846.5 1427.5,847.0 1427.8,846.2 1428.1,847.7 1428.3,847.0 1428.6,848.9 1428.9,846.7 1429.1,847.3 1429.4,848.0 1429.7,849.2 1430.0,846.5 1430.2,847.5 1430.5,848.3 1430.8,847.9 1431.0,847.5 1431.3,847.0 1431.6,848.3 1431.8,847.3 1432.1,849.1 1432.4,848.5 1432.7,848.3 1432.9,847.1 1433.2,847.9 1433.5,848.1 1433.7,849.2 1434.0,848.0 1434.3,849.3 1434.5,849.4 1434.8,849.2 1435.1,848.2 1435.3,848.6 1435.6,847.6 1435.9,848.2 1436.2,848.6 1436.4,848.6 1436.7,848.9 1437.0,848.9 1437.2,849.6 1437.5,848.7 1437.8,848.5 1438.0,848.9 1438.3,849.6 1438.6,849.6 1438.9,848.0 1439.1,850.5 1439.4,850.6 1439.7,849.9 1439.9,850.0 1440.2,849.9 1440.5,850.2 1440.8,851.5 1441.0,849.9 1441.3,849.2 1441.6,851.5 1441.8,850.8 1442.1,849.8 1442.4,850.1 1442.6,849.6 1442.9,850.8 1443.2,850.3 1443.5,850.3 1443.7,849.5 1444.0,850.6 1444.3,849.6 1444.5,849.2 1444.8,849.9 1445.1,850.3 1445.3,848.4 1445.6,850.2 1445.9,850.6 1446.2,850.5 1446.4,850.1 1446.7,850.1 1447.0,850.5 1447.2,850.5 1447.5,850.7 1447.8,850.8 1448.0,850.4 1448.3,851.7 1448.6,850.1 1448.8,850.6 1449.1,849.7 1449.4,850.2 1449.7,850.9 1449.9,850.1 1450.2,850.1 1450.5,850.1 1450.7,848.7 1451.0,850.3 1451.3,850.0 1451.5,848.5 1451.8,850.7 1452.1,850.7 1452.4,852.6 1452.6,850.3 1452.9,850.3 1453.2,850.2 1453.4,851.2 1453.7,850.7 1454.0,849.9 1454.2,850.0 1454.5,851.2 1454.8,851.0 1455.1,850.6 1455.3,850.9 1455.6,851.3 1455.9,850.5 1456.1,851.5 1456.4,850.7 1456.7,852.1 1457.0,853.2 1457.2,850.5 1457.5,852.4 1457.8,849.5"/>
<g stroke="#000" stroke-width="1.65" stroke-linecap="round" fill="none">
<path d="M632.5 84.2H651.3M641.9 74.8V93.6M632.8 75.1L651.0 93.3M632.8 93.3L651.0 75.1"/>
<path d="M444.6 668.6H463.4M454.0 659.2V678.0M444.9 659.5L463.1 677.7M444.9 677.7L463.1 659.5"/>
<path d="M955.3 765.5H974.1M964.7 756.1V774.9M955.6 756.4L973.8 774.6M955.6 774.6L973.8 756.4"/>
<path d="M1043.3 765.5H1062.1M1052.7 756.1V774.9M1043.6 756.4L1061.8 774.6M1043.6 774.6L1061.8 756.4"/>
<path d="M1070.3 765.5H1089.1M1079.7 756.1V774.9M1070.6 756.4L1088.8 774.6M1070.6 774.6L1088.8 756.4"/>
<path d="M1141.0 749.1H1159.8M1150.4 739.7V758.5M1141.3 740.0L1159.5 758.2M1141.3 758.2L1159.5 740.0"/>
<path d="M1255.1 781.7H1273.9M1264.5 772.3V791.1M1255.4 772.6L1273.6 790.8M1255.4 790.8L1273.6 772.6"/>
<path d="M1393.1 732.8H1411.9M1402.5 723.4V742.2M1393.4 723.7L1411.6 741.9M1393.4 741.9L1411.6 723.7"/>
<path d="M1342.7 99.0H1361.5M1352.1 89.6V108.4M1343.0 89.9L1361.2 108.1M1343.0 108.1L1361.2 89.9"/>
</g>
<g fill="#000" stroke="none">
<rect x="304.9" y="755.1" width="20.9" height="20.9"/>
<rect x="609.8" y="722.9" width="20.9" height="20.9"/>
<rect x="620.3" y="706.3" width="20.9" height="20.9"/>
<rect x="842.8" y="755.1" width="20.9" height="20.9"/>
<rect x="905.3" y="755.1" width="20.9" height="20.9"/>
<rect x="962.8" y="786.5" width="20.9" height="20.9"/>
<rect x="1091.8" y="755.0" width="20.9" height="20.9"/>
<rect x="1142.8" y="759.6" width="20.9" height="20.9"/>
<rect x="1367.8" y="786.8" width="20.9" height="20.9"/>
<rect x="1341.3" y="140.5" width="20.9" height="20.9"/>
<circle cx="486.5" cy="700.3" r="10.70"/>
<circle cx="693.2" cy="765.4" r="10.70"/>
<circle cx="1351.9" cy="203.0" r="10.70"/>
<path d="M113.7 807.7L125.0 786.3L136.3 807.7Z"/>
<path d="M455.7 807.7L467.0 786.3L478.3 807.7Z"/>
<path d="M522.0 807.7L533.3 786.3L544.6 807.7Z"/>
<path d="M652.4 807.7L663.7 786.3L675.0 807.7Z"/>
<path d="M728.4 807.7L739.7 786.3L751.0 807.7Z"/>
<path d="M766.5 791.7L777.8 770.3L789.1 791.7Z"/>
<path d="M1286.0 799.9L1297.3 778.5L1308.6 799.9Z"/>
<path d="M1340.8 265.7L1352.1 244.3L1363.4 265.7Z"/>
</g>
<g stroke="#1c1c1c" stroke-width="1.6" stroke-linecap="round" fill="none">
<path d="M222.2 781.8H240.3M231.2 772.6V790.9"/>
<path d="M542.8 732.6H561.0M551.9 723.5V741.7"/>
<path d="M866.2 797.9H884.4M875.3 788.8V807.0"/>
<path d="M1342.9 307.2H1361.1M1352.0 298.1V316.3"/>
</g>
</svg>
</body></html>
